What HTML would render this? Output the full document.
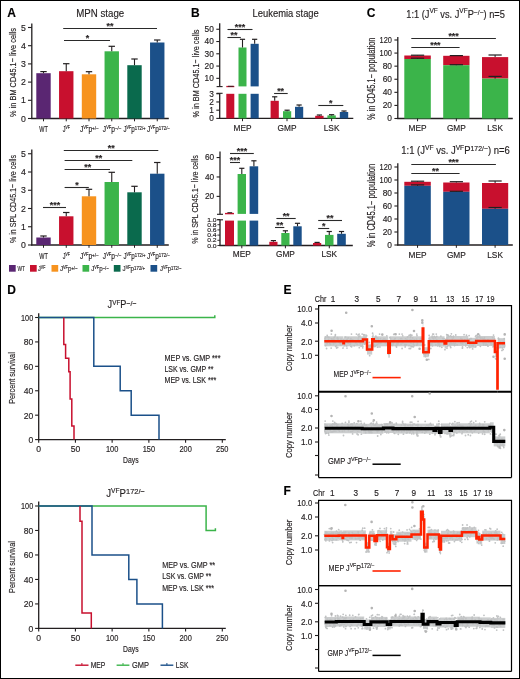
<!DOCTYPE html>
<html><head><meta charset="utf-8"><style>
html,body{margin:0;padding:0;background:#fff;}
svg{display:block;will-change:transform;}
text{font-family:"Liberation Sans", sans-serif;stroke:#231f20;stroke-width:0.16px;}
</style></head><body>
<svg width="520" height="679" viewBox="0 0 520 679" font-family='"Liberation Sans", sans-serif'>
<rect width="520" height="679" fill="#fff"/>
<rect x="0.5" y="0.5" width="519" height="678" fill="none" stroke="#000" stroke-width="1"/>
<text x="7.3" y="16.5" font-size="12" fill="#000" font-weight="bold" stroke-width="0.3" stroke="#000">A</text>
<text x="191" y="16.5" font-size="12" fill="#000" font-weight="bold" stroke-width="0.3" stroke="#000">B</text>
<text x="366.8" y="17" font-size="12" fill="#000" font-weight="bold" stroke-width="0.3" stroke="#000">C</text>
<text x="7.3" y="293.8" font-size="12" fill="#000" font-weight="bold" stroke-width="0.3" stroke="#000">D</text>
<text x="283.4" y="293.8" font-size="12" fill="#000" font-weight="bold" stroke-width="0.3" stroke="#000">E</text>
<text x="283.6" y="494.5" font-size="12" fill="#000" font-weight="bold" stroke-width="0.3" stroke="#000">F</text>
<text x="100.2" y="17.4" font-size="10.4" fill="#231f20" textLength="48" lengthAdjust="spacingAndGlyphs" text-anchor="middle">MPN stage</text>
<line x1="31.8" y1="23.5" x2="31.8" y2="119.1" stroke="#231f20" stroke-width="1.3" stroke-linecap="butt"/>
<line x1="31.2" y1="118.5" x2="168.8" y2="118.5" stroke="#231f20" stroke-width="1.3" stroke-linecap="butt"/>
<line x1="28" y1="118.5" x2="31.8" y2="118.5" stroke="#231f20" stroke-width="1.1" stroke-linecap="butt"/>
<text x="25.9" y="121.59" font-size="8.7" fill="#231f20" text-anchor="end">0</text>
<line x1="28" y1="100.3" x2="31.8" y2="100.3" stroke="#231f20" stroke-width="1.1" stroke-linecap="butt"/>
<text x="25.9" y="103.39" font-size="8.7" fill="#231f20" text-anchor="end">1</text>
<line x1="28" y1="82.1" x2="31.8" y2="82.1" stroke="#231f20" stroke-width="1.1" stroke-linecap="butt"/>
<text x="25.9" y="85.19" font-size="8.7" fill="#231f20" text-anchor="end">2</text>
<line x1="28" y1="63.9" x2="31.8" y2="63.9" stroke="#231f20" stroke-width="1.1" stroke-linecap="butt"/>
<text x="25.9" y="66.99" font-size="8.7" fill="#231f20" text-anchor="end">3</text>
<line x1="28" y1="45.7" x2="31.8" y2="45.7" stroke="#231f20" stroke-width="1.1" stroke-linecap="butt"/>
<text x="25.9" y="48.79" font-size="8.7" fill="#231f20" text-anchor="end">4</text>
<line x1="28" y1="27.5" x2="31.8" y2="27.5" stroke="#231f20" stroke-width="1.1" stroke-linecap="butt"/>
<text x="25.9" y="30.59" font-size="8.7" fill="#231f20" text-anchor="end">5</text>
<rect x="36.3" y="73.2" width="14.4" height="45.3" fill="#5a2672"/>
<line x1="43.5" y1="73.2" x2="43.5" y2="71.6" stroke="#231f20" stroke-width="1.1" stroke-linecap="butt"/>
<line x1="40.3" y1="71.6" x2="46.7" y2="71.6" stroke="#231f20" stroke-width="1.2" stroke-linecap="butt"/>
<line x1="43.5" y1="118.5" x2="43.5" y2="121.3" stroke="#231f20" stroke-width="1" stroke-linecap="butt"/>
<rect x="59.05" y="71.2" width="14.4" height="47.3" fill="#c8102e"/>
<line x1="66.25" y1="71.2" x2="66.25" y2="63.7" stroke="#231f20" stroke-width="1.1" stroke-linecap="butt"/>
<line x1="63.05" y1="63.7" x2="69.45" y2="63.7" stroke="#231f20" stroke-width="1.2" stroke-linecap="butt"/>
<line x1="66.25" y1="118.5" x2="66.25" y2="121.3" stroke="#231f20" stroke-width="1" stroke-linecap="butt"/>
<rect x="81.8" y="74.3" width="14.4" height="44.2" fill="#f7931e"/>
<line x1="89" y1="74.3" x2="89" y2="71.7" stroke="#231f20" stroke-width="1.1" stroke-linecap="butt"/>
<line x1="85.8" y1="71.7" x2="92.2" y2="71.7" stroke="#231f20" stroke-width="1.2" stroke-linecap="butt"/>
<line x1="89" y1="118.5" x2="89" y2="121.3" stroke="#231f20" stroke-width="1" stroke-linecap="butt"/>
<rect x="104.55" y="51.3" width="14.4" height="67.2" fill="#3bb44a"/>
<line x1="111.75" y1="51.3" x2="111.75" y2="46.3" stroke="#231f20" stroke-width="1.1" stroke-linecap="butt"/>
<line x1="108.55" y1="46.3" x2="114.95" y2="46.3" stroke="#231f20" stroke-width="1.2" stroke-linecap="butt"/>
<line x1="111.75" y1="118.5" x2="111.75" y2="121.3" stroke="#231f20" stroke-width="1" stroke-linecap="butt"/>
<rect x="127.3" y="65.2" width="14.4" height="53.3" fill="#0a6a4d"/>
<line x1="134.5" y1="65.2" x2="134.5" y2="59" stroke="#231f20" stroke-width="1.1" stroke-linecap="butt"/>
<line x1="131.3" y1="59" x2="137.7" y2="59" stroke="#231f20" stroke-width="1.2" stroke-linecap="butt"/>
<line x1="134.5" y1="118.5" x2="134.5" y2="121.3" stroke="#231f20" stroke-width="1" stroke-linecap="butt"/>
<rect x="150.05" y="42.5" width="14.4" height="76" fill="#1b5089"/>
<line x1="157.25" y1="42.5" x2="157.25" y2="40" stroke="#231f20" stroke-width="1.1" stroke-linecap="butt"/>
<line x1="154.05" y1="40" x2="160.45" y2="40" stroke="#231f20" stroke-width="1.2" stroke-linecap="butt"/>
<line x1="157.25" y1="118.5" x2="157.25" y2="121.3" stroke="#231f20" stroke-width="1" stroke-linecap="butt"/>
<text x="43.5" y="131.6" font-size="8.2" fill="#231f20" textLength="8.6" lengthAdjust="spacingAndGlyphs" text-anchor="middle">WT</text>
<text x="66.25" y="131.6" font-size="8.2" fill="#231f20" textLength="7.2" lengthAdjust="spacingAndGlyphs" text-anchor="middle">J<tspan dy="-2.6" font-size="5">VF</tspan></text>
<text x="89.3" y="131.6" font-size="8.2" fill="#231f20" textLength="18.8" lengthAdjust="spacingAndGlyphs" text-anchor="middle">J<tspan dy="-2.6" font-size="5">VF</tspan><tspan dy="2.6">p</tspan><tspan dy="-1.4" font-size="5.6">+/−</tspan></text>
<text x="112.15" y="131.6" font-size="8.2" fill="#231f20" textLength="18.6" lengthAdjust="spacingAndGlyphs" text-anchor="middle">J<tspan dy="-2.6" font-size="5">VF</tspan><tspan dy="2.6">p</tspan><tspan dy="-1.4" font-size="5.6">−/−</tspan></text>
<text x="134.5" y="131.6" font-size="8.2" fill="#231f20" textLength="22.2" lengthAdjust="spacingAndGlyphs" text-anchor="middle">J<tspan dy="-2.6" font-size="5">VF</tspan><tspan dy="2.6">p</tspan><tspan dy="-1.4" font-size="5.6">172/+</tspan></text>
<text x="158.45" y="131.6" font-size="8.2" fill="#231f20" textLength="23" lengthAdjust="spacingAndGlyphs" text-anchor="middle">J<tspan dy="-2.6" font-size="5">VF</tspan><tspan dy="2.6">p</tspan><tspan dy="-1.4" font-size="5.6">172/−</tspan></text>
<line x1="63.2" y1="28.5" x2="157" y2="28.5" stroke="#2a2a2a" stroke-width="1.1" stroke-linecap="butt"/>
<text x="110" y="28.98" font-size="8.2" fill="#231f20" textLength="6.89" lengthAdjust="spacingAndGlyphs" text-anchor="middle" font-weight="bold">**</text>
<line x1="64" y1="40.5" x2="110" y2="40.5" stroke="#2a2a2a" stroke-width="1.1" stroke-linecap="butt"/>
<text x="87.5" y="40.98" font-size="8.2" fill="#231f20" textLength="3.44" lengthAdjust="spacingAndGlyphs" text-anchor="middle" font-weight="bold">*</text>
<line x1="31.8" y1="149.5" x2="31.8" y2="245.6" stroke="#231f20" stroke-width="1.3" stroke-linecap="butt"/>
<line x1="31.2" y1="245" x2="168.8" y2="245" stroke="#231f20" stroke-width="1.3" stroke-linecap="butt"/>
<line x1="28" y1="245" x2="31.8" y2="245" stroke="#231f20" stroke-width="1.1" stroke-linecap="butt"/>
<text x="25.9" y="248.09" font-size="8.7" fill="#231f20" text-anchor="end">0</text>
<line x1="28" y1="226.75" x2="31.8" y2="226.75" stroke="#231f20" stroke-width="1.1" stroke-linecap="butt"/>
<text x="25.9" y="229.84" font-size="8.7" fill="#231f20" text-anchor="end">1</text>
<line x1="28" y1="208.5" x2="31.8" y2="208.5" stroke="#231f20" stroke-width="1.1" stroke-linecap="butt"/>
<text x="25.9" y="211.59" font-size="8.7" fill="#231f20" text-anchor="end">2</text>
<line x1="28" y1="190.25" x2="31.8" y2="190.25" stroke="#231f20" stroke-width="1.1" stroke-linecap="butt"/>
<text x="25.9" y="193.34" font-size="8.7" fill="#231f20" text-anchor="end">3</text>
<line x1="28" y1="172" x2="31.8" y2="172" stroke="#231f20" stroke-width="1.1" stroke-linecap="butt"/>
<text x="25.9" y="175.09" font-size="8.7" fill="#231f20" text-anchor="end">4</text>
<line x1="28" y1="153.75" x2="31.8" y2="153.75" stroke="#231f20" stroke-width="1.1" stroke-linecap="butt"/>
<text x="25.9" y="156.84" font-size="8.7" fill="#231f20" text-anchor="end">5</text>
<rect x="36.3" y="237.5" width="14.4" height="7.5" fill="#5a2672"/>
<line x1="43.5" y1="237.5" x2="43.5" y2="236" stroke="#231f20" stroke-width="1.1" stroke-linecap="butt"/>
<line x1="40.3" y1="236" x2="46.7" y2="236" stroke="#231f20" stroke-width="1.2" stroke-linecap="butt"/>
<line x1="43.5" y1="245" x2="43.5" y2="247.8" stroke="#231f20" stroke-width="1" stroke-linecap="butt"/>
<rect x="59.05" y="216.3" width="14.4" height="28.7" fill="#c8102e"/>
<line x1="66.25" y1="216.3" x2="66.25" y2="212.5" stroke="#231f20" stroke-width="1.1" stroke-linecap="butt"/>
<line x1="63.05" y1="212.5" x2="69.45" y2="212.5" stroke="#231f20" stroke-width="1.2" stroke-linecap="butt"/>
<line x1="66.25" y1="245" x2="66.25" y2="247.8" stroke="#231f20" stroke-width="1" stroke-linecap="butt"/>
<rect x="81.8" y="196.3" width="14.4" height="48.7" fill="#f7931e"/>
<line x1="89" y1="196.3" x2="89" y2="189.3" stroke="#231f20" stroke-width="1.1" stroke-linecap="butt"/>
<line x1="85.8" y1="189.3" x2="92.2" y2="189.3" stroke="#231f20" stroke-width="1.2" stroke-linecap="butt"/>
<line x1="89" y1="245" x2="89" y2="247.8" stroke="#231f20" stroke-width="1" stroke-linecap="butt"/>
<rect x="104.55" y="182" width="14.4" height="63" fill="#3bb44a"/>
<line x1="111.75" y1="182" x2="111.75" y2="172.3" stroke="#231f20" stroke-width="1.1" stroke-linecap="butt"/>
<line x1="108.55" y1="172.3" x2="114.95" y2="172.3" stroke="#231f20" stroke-width="1.2" stroke-linecap="butt"/>
<line x1="111.75" y1="245" x2="111.75" y2="247.8" stroke="#231f20" stroke-width="1" stroke-linecap="butt"/>
<rect x="127.3" y="192.3" width="14.4" height="52.7" fill="#0a6a4d"/>
<line x1="134.5" y1="192.3" x2="134.5" y2="186.3" stroke="#231f20" stroke-width="1.1" stroke-linecap="butt"/>
<line x1="131.3" y1="186.3" x2="137.7" y2="186.3" stroke="#231f20" stroke-width="1.2" stroke-linecap="butt"/>
<line x1="134.5" y1="245" x2="134.5" y2="247.8" stroke="#231f20" stroke-width="1" stroke-linecap="butt"/>
<rect x="150.05" y="173.7" width="14.4" height="71.3" fill="#1b5089"/>
<line x1="157.25" y1="173.7" x2="157.25" y2="162.5" stroke="#231f20" stroke-width="1.1" stroke-linecap="butt"/>
<line x1="154.05" y1="162.5" x2="160.45" y2="162.5" stroke="#231f20" stroke-width="1.2" stroke-linecap="butt"/>
<line x1="157.25" y1="245" x2="157.25" y2="247.8" stroke="#231f20" stroke-width="1" stroke-linecap="butt"/>
<text x="43.5" y="258.7" font-size="8.2" fill="#231f20" textLength="8.6" lengthAdjust="spacingAndGlyphs" text-anchor="middle">WT</text>
<text x="66.25" y="258.7" font-size="8.2" fill="#231f20" textLength="7.2" lengthAdjust="spacingAndGlyphs" text-anchor="middle">J<tspan dy="-2.6" font-size="5">VF</tspan></text>
<text x="89.3" y="258.7" font-size="8.2" fill="#231f20" textLength="18.8" lengthAdjust="spacingAndGlyphs" text-anchor="middle">J<tspan dy="-2.6" font-size="5">VF</tspan><tspan dy="2.6">p</tspan><tspan dy="-1.4" font-size="5.6">+/−</tspan></text>
<text x="112.15" y="258.7" font-size="8.2" fill="#231f20" textLength="18.6" lengthAdjust="spacingAndGlyphs" text-anchor="middle">J<tspan dy="-2.6" font-size="5">VF</tspan><tspan dy="2.6">p</tspan><tspan dy="-1.4" font-size="5.6">−/−</tspan></text>
<text x="134.5" y="258.7" font-size="8.2" fill="#231f20" textLength="22.2" lengthAdjust="spacingAndGlyphs" text-anchor="middle">J<tspan dy="-2.6" font-size="5">VF</tspan><tspan dy="2.6">p</tspan><tspan dy="-1.4" font-size="5.6">172/+</tspan></text>
<text x="158.45" y="258.7" font-size="8.2" fill="#231f20" textLength="23" lengthAdjust="spacingAndGlyphs" text-anchor="middle">J<tspan dy="-2.6" font-size="5">VF</tspan><tspan dy="2.6">p</tspan><tspan dy="-1.4" font-size="5.6">172/−</tspan></text>
<line x1="43" y1="207.5" x2="66" y2="207.5" stroke="#2a2a2a" stroke-width="1.1" stroke-linecap="butt"/>
<text x="55" y="207.98" font-size="8.2" fill="#231f20" textLength="10.33" lengthAdjust="spacingAndGlyphs" text-anchor="middle" font-weight="bold">***</text>
<line x1="64.6" y1="187.5" x2="88.8" y2="187.5" stroke="#2a2a2a" stroke-width="1.1" stroke-linecap="butt"/>
<text x="77" y="187.98" font-size="8.2" fill="#231f20" textLength="3.44" lengthAdjust="spacingAndGlyphs" text-anchor="middle" font-weight="bold">*</text>
<line x1="64.6" y1="169.5" x2="110" y2="169.5" stroke="#2a2a2a" stroke-width="1.1" stroke-linecap="butt"/>
<text x="87.7" y="169.98" font-size="8.2" fill="#231f20" textLength="6.89" lengthAdjust="spacingAndGlyphs" text-anchor="middle" font-weight="bold">**</text>
<line x1="64.6" y1="160.5" x2="132.3" y2="160.5" stroke="#2a2a2a" stroke-width="1.1" stroke-linecap="butt"/>
<text x="98.8" y="160.98" font-size="8.2" fill="#231f20" textLength="6.89" lengthAdjust="spacingAndGlyphs" text-anchor="middle" font-weight="bold">**</text>
<line x1="63.8" y1="150.5" x2="158.3" y2="150.5" stroke="#2a2a2a" stroke-width="1.1" stroke-linecap="butt"/>
<text x="111.2" y="150.98" font-size="8.2" fill="#231f20" textLength="6.89" lengthAdjust="spacingAndGlyphs" text-anchor="middle" font-weight="bold">**</text>
<text transform="translate(15.7,72.5) rotate(-90)" font-size="9.8" fill="#231f20" textLength="89" lengthAdjust="spacingAndGlyphs" text-anchor="middle">% in BM CD45.1− live cells</text>
<text transform="translate(15.7,199) rotate(-90)" font-size="9.8" fill="#231f20" textLength="88" lengthAdjust="spacingAndGlyphs" text-anchor="middle">% in SPL CD45.1− live cells</text>
<rect x="9" y="265" width="6.7" height="6.7" fill="#5a2672"/>
<text x="17.5" y="271.2" font-size="7.6" fill="#231f20" textLength="7.5" lengthAdjust="spacingAndGlyphs">WT</text>
<rect x="30" y="265" width="6.7" height="6.7" fill="#c8102e"/>
<text x="38" y="271.2" font-size="7.6" fill="#231f20" textLength="7.3" lengthAdjust="spacingAndGlyphs">J<tspan dy="-2.4" font-size="4.7">VF</tspan></text>
<rect x="51.5" y="265" width="6.7" height="6.7" fill="#f7931e"/>
<text x="60" y="271.2" font-size="7.6" fill="#231f20" textLength="17.5" lengthAdjust="spacingAndGlyphs">J<tspan dy="-2.4" font-size="4.7">VF</tspan><tspan dy="2.4">p</tspan><tspan dy="-1.3" font-size="5.2">+/−</tspan></text>
<rect x="82.5" y="265" width="6.7" height="6.7" fill="#3bb44a"/>
<text x="91.2" y="271.2" font-size="7.6" fill="#231f20" textLength="17.5" lengthAdjust="spacingAndGlyphs">J<tspan dy="-2.4" font-size="4.7">VF</tspan><tspan dy="2.4">p</tspan><tspan dy="-1.3" font-size="5.2">−/−</tspan></text>
<rect x="113.8" y="265" width="6.7" height="6.7" fill="#0a6a4d"/>
<text x="122.5" y="271.2" font-size="7.6" fill="#231f20" textLength="22.5" lengthAdjust="spacingAndGlyphs">J<tspan dy="-2.4" font-size="4.7">VF</tspan><tspan dy="2.4">p</tspan><tspan dy="-1.3" font-size="5.2">172/+</tspan></text>
<rect x="150.5" y="265" width="6.7" height="6.7" fill="#1b5089"/>
<text x="160" y="271.2" font-size="7.6" fill="#231f20" textLength="21.3" lengthAdjust="spacingAndGlyphs">J<tspan dy="-2.4" font-size="4.7">VF</tspan><tspan dy="2.4">p</tspan><tspan dy="-1.3" font-size="5.2">172/−</tspan></text>
<text x="252.6" y="16.8" font-size="10.4" fill="#231f20" textLength="66.2" lengthAdjust="spacingAndGlyphs">Leukemia stage</text>
<line x1="219.7" y1="23.2" x2="219.7" y2="86.6" stroke="#231f20" stroke-width="1.3" stroke-linecap="butt"/>
<line x1="219.7" y1="93.3" x2="219.7" y2="119" stroke="#231f20" stroke-width="1.3" stroke-linecap="butt"/>
<line x1="216.6" y1="86.6" x2="222.6" y2="86.6" stroke="#231f20" stroke-width="1.1" stroke-linecap="butt"/>
<line x1="216.6" y1="93.3" x2="222.6" y2="93.3" stroke="#231f20" stroke-width="1.1" stroke-linecap="butt"/>
<line x1="219.1" y1="118.4" x2="353.3" y2="118.4" stroke="#231f20" stroke-width="1.3" stroke-linecap="butt"/>
<line x1="216.3" y1="29.25" x2="219.7" y2="29.25" stroke="#231f20" stroke-width="1.1" stroke-linecap="butt"/>
<text x="213.8" y="32.2" font-size="8.3" fill="#231f20" text-anchor="end">50</text>
<line x1="216.3" y1="41.52" x2="219.7" y2="41.52" stroke="#231f20" stroke-width="1.1" stroke-linecap="butt"/>
<text x="213.8" y="44.47" font-size="8.3" fill="#231f20" text-anchor="end">40</text>
<line x1="216.3" y1="53.79" x2="219.7" y2="53.79" stroke="#231f20" stroke-width="1.1" stroke-linecap="butt"/>
<text x="213.8" y="56.74" font-size="8.3" fill="#231f20" text-anchor="end">30</text>
<line x1="216.3" y1="66.06" x2="219.7" y2="66.06" stroke="#231f20" stroke-width="1.1" stroke-linecap="butt"/>
<text x="213.8" y="69.01" font-size="8.3" fill="#231f20" text-anchor="end">20</text>
<line x1="216.3" y1="78.33" x2="219.7" y2="78.33" stroke="#231f20" stroke-width="1.1" stroke-linecap="butt"/>
<text x="213.8" y="81.28" font-size="8.3" fill="#231f20" text-anchor="end">10</text>
<line x1="216.3" y1="93.74" x2="219.7" y2="93.74" stroke="#231f20" stroke-width="1.1" stroke-linecap="butt"/>
<text x="213.8" y="96.69" font-size="8.3" fill="#231f20" text-anchor="end">3</text>
<line x1="216.3" y1="101.96" x2="219.7" y2="101.96" stroke="#231f20" stroke-width="1.1" stroke-linecap="butt"/>
<text x="213.8" y="104.91" font-size="8.3" fill="#231f20" text-anchor="end">2</text>
<line x1="216.3" y1="110.18" x2="219.7" y2="110.18" stroke="#231f20" stroke-width="1.1" stroke-linecap="butt"/>
<text x="213.8" y="113.13" font-size="8.3" fill="#231f20" text-anchor="end">1</text>
<line x1="216.3" y1="118.4" x2="219.7" y2="118.4" stroke="#231f20" stroke-width="1.1" stroke-linecap="butt"/>
<text x="213.8" y="121.35" font-size="8.3" fill="#231f20" text-anchor="end">0</text>
<rect x="226.3" y="85.9" width="8" height="1.3" fill="#c8102e"/>
<line x1="228" y1="86.3" x2="233.6" y2="86.3" stroke="#231f20" stroke-width="0.9" stroke-linecap="butt"/>
<rect x="226.3" y="93.8" width="8" height="24.6" fill="#c8102e"/>
<rect x="238.5" y="47.5" width="8" height="38.9" fill="#3bb44a"/>
<line x1="242.5" y1="47.5" x2="242.5" y2="39.3" stroke="#231f20" stroke-width="1.1" stroke-linecap="butt"/>
<line x1="239.9" y1="39.3" x2="245.1" y2="39.3" stroke="#231f20" stroke-width="1.2" stroke-linecap="butt"/>
<rect x="238.5" y="93.8" width="8" height="24.6" fill="#3bb44a"/>
<rect x="250.6" y="43.8" width="8.1" height="42.6" fill="#1b5089"/>
<line x1="254.65" y1="43.8" x2="254.65" y2="39.3" stroke="#231f20" stroke-width="1.1" stroke-linecap="butt"/>
<line x1="252.05" y1="39.3" x2="257.25" y2="39.3" stroke="#231f20" stroke-width="1.2" stroke-linecap="butt"/>
<rect x="250.6" y="93.8" width="8.1" height="24.6" fill="#1b5089"/>
<rect x="270.6" y="100.8" width="8.2" height="17.6" fill="#c8102e"/>
<line x1="274.7" y1="100.8" x2="274.7" y2="96.8" stroke="#231f20" stroke-width="1.1" stroke-linecap="butt"/>
<line x1="272.1" y1="96.8" x2="277.3" y2="96.8" stroke="#231f20" stroke-width="1.2" stroke-linecap="butt"/>
<rect x="283" y="111.2" width="8.2" height="7.2" fill="#3bb44a"/>
<line x1="287.1" y1="111.2" x2="287.1" y2="110.2" stroke="#231f20" stroke-width="1.1" stroke-linecap="butt"/>
<line x1="284.5" y1="110.2" x2="289.7" y2="110.2" stroke="#231f20" stroke-width="1.2" stroke-linecap="butt"/>
<rect x="295" y="106.8" width="8.2" height="11.6" fill="#1b5089"/>
<line x1="299.1" y1="106.8" x2="299.1" y2="105" stroke="#231f20" stroke-width="1.1" stroke-linecap="butt"/>
<line x1="296.5" y1="105" x2="301.7" y2="105" stroke="#231f20" stroke-width="1.2" stroke-linecap="butt"/>
<rect x="315.2" y="115.8" width="8.4" height="2.6" fill="#c8102e"/>
<line x1="319.4" y1="115.8" x2="319.4" y2="115" stroke="#231f20" stroke-width="1.1" stroke-linecap="butt"/>
<line x1="316.8" y1="115" x2="322" y2="115" stroke="#231f20" stroke-width="1.2" stroke-linecap="butt"/>
<rect x="327.4" y="115.4" width="8.4" height="3" fill="#3bb44a"/>
<line x1="331.6" y1="115.4" x2="331.6" y2="114.7" stroke="#231f20" stroke-width="1.1" stroke-linecap="butt"/>
<line x1="329" y1="114.7" x2="334.2" y2="114.7" stroke="#231f20" stroke-width="1.2" stroke-linecap="butt"/>
<rect x="339.8" y="112" width="8.4" height="6.4" fill="#1b5089"/>
<line x1="344" y1="112" x2="344" y2="111" stroke="#231f20" stroke-width="1.1" stroke-linecap="butt"/>
<line x1="341.4" y1="111" x2="346.6" y2="111" stroke="#231f20" stroke-width="1.2" stroke-linecap="butt"/>
<line x1="242.5" y1="118.4" x2="242.5" y2="121.2" stroke="#231f20" stroke-width="1" stroke-linecap="butt"/>
<text x="242.5" y="130.8" font-size="8.3" fill="#231f20" text-anchor="middle">MEP</text>
<line x1="287" y1="118.4" x2="287" y2="121.2" stroke="#231f20" stroke-width="1" stroke-linecap="butt"/>
<text x="287" y="130.8" font-size="8.3" fill="#231f20" text-anchor="middle">GMP</text>
<line x1="331.6" y1="118.4" x2="331.6" y2="121.2" stroke="#231f20" stroke-width="1" stroke-linecap="butt"/>
<text x="331.6" y="130.8" font-size="8.3" fill="#231f20" text-anchor="middle">LSK</text>
<line x1="227.4" y1="37.5" x2="240.8" y2="37.5" stroke="#2a2a2a" stroke-width="1.1" stroke-linecap="butt"/>
<text x="233.9" y="37.98" font-size="8.2" fill="#231f20" textLength="6.89" lengthAdjust="spacingAndGlyphs" text-anchor="middle" font-weight="bold">**</text>
<line x1="227.5" y1="29.5" x2="252.5" y2="29.5" stroke="#2a2a2a" stroke-width="1.1" stroke-linecap="butt"/>
<text x="240" y="29.98" font-size="8.2" fill="#231f20" textLength="10.33" lengthAdjust="spacingAndGlyphs" text-anchor="middle" font-weight="bold">***</text>
<line x1="274.1" y1="93.5" x2="287.7" y2="93.5" stroke="#2a2a2a" stroke-width="1.1" stroke-linecap="butt"/>
<text x="280.6" y="93.98" font-size="8.2" fill="#231f20" textLength="6.89" lengthAdjust="spacingAndGlyphs" text-anchor="middle" font-weight="bold">**</text>
<line x1="318.3" y1="105.5" x2="343.3" y2="105.5" stroke="#2a2a2a" stroke-width="1.1" stroke-linecap="butt"/>
<text x="330.8" y="105.98" font-size="8.2" fill="#231f20" textLength="3.44" lengthAdjust="spacingAndGlyphs" text-anchor="middle" font-weight="bold">*</text>
<text transform="translate(199.3,73.5) rotate(-90)" font-size="9.8" fill="#231f20" textLength="88" lengthAdjust="spacingAndGlyphs" text-anchor="middle">% in BM CD45.1− live cells</text>
<line x1="220" y1="151.5" x2="220" y2="214.3" stroke="#231f20" stroke-width="1.3" stroke-linecap="butt"/>
<line x1="220" y1="219.8" x2="220" y2="246.1" stroke="#231f20" stroke-width="1.3" stroke-linecap="butt"/>
<line x1="217" y1="214.3" x2="223" y2="214.3" stroke="#231f20" stroke-width="1.1" stroke-linecap="butt"/>
<line x1="217" y1="219.8" x2="223" y2="219.8" stroke="#231f20" stroke-width="1.1" stroke-linecap="butt"/>
<line x1="219.4" y1="245.5" x2="352.8" y2="245.5" stroke="#231f20" stroke-width="1.3" stroke-linecap="butt"/>
<line x1="216.6" y1="157.54" x2="220" y2="157.54" stroke="#231f20" stroke-width="1.1" stroke-linecap="butt"/>
<text x="214.2" y="160.49" font-size="8.3" fill="#231f20" text-anchor="end">60</text>
<line x1="216.6" y1="176.96" x2="220" y2="176.96" stroke="#231f20" stroke-width="1.1" stroke-linecap="butt"/>
<text x="214.2" y="179.91" font-size="8.3" fill="#231f20" text-anchor="end">40</text>
<line x1="216.6" y1="196.38" x2="220" y2="196.38" stroke="#231f20" stroke-width="1.1" stroke-linecap="butt"/>
<text x="214.2" y="199.33" font-size="8.3" fill="#231f20" text-anchor="end">20</text>
<line x1="217.4" y1="245.5" x2="220" y2="245.5" stroke="#231f20" stroke-width="0.9" stroke-linecap="butt"/>
<text x="216.6" y="247.59" font-size="5.9" fill="#231f20" textLength="9.4" lengthAdjust="spacingAndGlyphs" text-anchor="end">0.0</text>
<line x1="217.4" y1="240.3" x2="220" y2="240.3" stroke="#231f20" stroke-width="0.9" stroke-linecap="butt"/>
<text x="216.6" y="242.39" font-size="5.9" fill="#231f20" textLength="9.4" lengthAdjust="spacingAndGlyphs" text-anchor="end">0.2</text>
<line x1="217.4" y1="235.1" x2="220" y2="235.1" stroke="#231f20" stroke-width="0.9" stroke-linecap="butt"/>
<text x="216.6" y="237.19" font-size="5.9" fill="#231f20" textLength="9.4" lengthAdjust="spacingAndGlyphs" text-anchor="end">0.4</text>
<line x1="217.4" y1="229.9" x2="220" y2="229.9" stroke="#231f20" stroke-width="0.9" stroke-linecap="butt"/>
<text x="216.6" y="231.99" font-size="5.9" fill="#231f20" textLength="9.4" lengthAdjust="spacingAndGlyphs" text-anchor="end">0.6</text>
<line x1="217.4" y1="224.7" x2="220" y2="224.7" stroke="#231f20" stroke-width="0.9" stroke-linecap="butt"/>
<text x="216.6" y="226.79" font-size="5.9" fill="#231f20" textLength="9.4" lengthAdjust="spacingAndGlyphs" text-anchor="end">0.8</text>
<line x1="217.4" y1="219.5" x2="220" y2="219.5" stroke="#231f20" stroke-width="0.9" stroke-linecap="butt"/>
<text x="216.6" y="221.59" font-size="5.9" fill="#231f20" textLength="9.4" lengthAdjust="spacingAndGlyphs" text-anchor="end">1.0</text>
<rect x="225" y="212.9" width="9" height="1.4" fill="#c8102e"/>
<line x1="227.4" y1="212.7" x2="232.2" y2="212.7" stroke="#231f20" stroke-width="1" stroke-linecap="butt"/>
<rect x="225" y="220.6" width="9" height="24.9" fill="#c8102e"/>
<rect x="237.6" y="174" width="8.4" height="39.9" fill="#3bb44a"/>
<line x1="241.8" y1="174" x2="241.8" y2="168.3" stroke="#231f20" stroke-width="1.1" stroke-linecap="butt"/>
<line x1="239.2" y1="168.3" x2="244.4" y2="168.3" stroke="#231f20" stroke-width="1.2" stroke-linecap="butt"/>
<rect x="237.6" y="220.6" width="8.4" height="24.9" fill="#3bb44a"/>
<rect x="249.6" y="166.3" width="8.6" height="47.6" fill="#1b5089"/>
<line x1="253.9" y1="166.3" x2="253.9" y2="160.8" stroke="#231f20" stroke-width="1.1" stroke-linecap="butt"/>
<line x1="251.3" y1="160.8" x2="256.5" y2="160.8" stroke="#231f20" stroke-width="1.2" stroke-linecap="butt"/>
<rect x="249.6" y="220.6" width="8.6" height="24.9" fill="#1b5089"/>
<rect x="269.3" y="241.8" width="8.2" height="3.7" fill="#c8102e"/>
<line x1="273.4" y1="241.8" x2="273.4" y2="240.6" stroke="#231f20" stroke-width="1.1" stroke-linecap="butt"/>
<line x1="270.8" y1="240.6" x2="276" y2="240.6" stroke="#231f20" stroke-width="1.2" stroke-linecap="butt"/>
<rect x="281.3" y="233" width="8.2" height="12.5" fill="#3bb44a"/>
<line x1="285.4" y1="233" x2="285.4" y2="230.8" stroke="#231f20" stroke-width="1.1" stroke-linecap="butt"/>
<line x1="282.8" y1="230.8" x2="288" y2="230.8" stroke="#231f20" stroke-width="1.2" stroke-linecap="butt"/>
<rect x="293.3" y="226.3" width="8.4" height="19.2" fill="#1b5089"/>
<line x1="297.5" y1="226.3" x2="297.5" y2="223.3" stroke="#231f20" stroke-width="1.1" stroke-linecap="butt"/>
<line x1="294.9" y1="223.3" x2="300.1" y2="223.3" stroke="#231f20" stroke-width="1.2" stroke-linecap="butt"/>
<rect x="313" y="243" width="8.2" height="2.5" fill="#c8102e"/>
<line x1="317.1" y1="243" x2="317.1" y2="242.4" stroke="#231f20" stroke-width="1.1" stroke-linecap="butt"/>
<line x1="314.5" y1="242.4" x2="319.7" y2="242.4" stroke="#231f20" stroke-width="1.2" stroke-linecap="butt"/>
<rect x="325" y="234.9" width="8.5" height="10.6" fill="#3bb44a"/>
<line x1="329.25" y1="234.9" x2="329.25" y2="231.5" stroke="#231f20" stroke-width="1.1" stroke-linecap="butt"/>
<line x1="326.65" y1="231.5" x2="331.85" y2="231.5" stroke="#231f20" stroke-width="1.2" stroke-linecap="butt"/>
<rect x="337.2" y="233.8" width="8.6" height="11.7" fill="#1b5089"/>
<line x1="341.5" y1="233.8" x2="341.5" y2="231.5" stroke="#231f20" stroke-width="1.1" stroke-linecap="butt"/>
<line x1="338.9" y1="231.5" x2="344.1" y2="231.5" stroke="#231f20" stroke-width="1.2" stroke-linecap="butt"/>
<line x1="241.8" y1="245.5" x2="241.8" y2="248.3" stroke="#231f20" stroke-width="1" stroke-linecap="butt"/>
<text x="241.8" y="257.2" font-size="8.3" fill="#231f20" text-anchor="middle">MEP</text>
<line x1="285.4" y1="245.5" x2="285.4" y2="248.3" stroke="#231f20" stroke-width="1" stroke-linecap="butt"/>
<text x="285.4" y="257.2" font-size="8.3" fill="#231f20" text-anchor="middle">GMP</text>
<line x1="329.3" y1="245.5" x2="329.3" y2="248.3" stroke="#231f20" stroke-width="1" stroke-linecap="butt"/>
<text x="329.3" y="257.2" font-size="8.3" fill="#231f20" text-anchor="middle">LSK</text>
<line x1="230" y1="162.5" x2="240" y2="162.5" stroke="#2a2a2a" stroke-width="1.1" stroke-linecap="butt"/>
<text x="235" y="162.98" font-size="8.2" fill="#231f20" textLength="10.33" lengthAdjust="spacingAndGlyphs" text-anchor="middle" font-weight="bold">***</text>
<line x1="230" y1="153.5" x2="253.8" y2="153.5" stroke="#2a2a2a" stroke-width="1.1" stroke-linecap="butt"/>
<text x="242" y="153.98" font-size="8.2" fill="#231f20" textLength="10.33" lengthAdjust="spacingAndGlyphs" text-anchor="middle" font-weight="bold">***</text>
<line x1="275" y1="227.5" x2="284.3" y2="227.5" stroke="#2a2a2a" stroke-width="1.1" stroke-linecap="butt"/>
<text x="279.7" y="227.98" font-size="8.2" fill="#231f20" textLength="6.89" lengthAdjust="spacingAndGlyphs" text-anchor="middle" font-weight="bold">**</text>
<line x1="276.4" y1="218.5" x2="295.7" y2="218.5" stroke="#2a2a2a" stroke-width="1.1" stroke-linecap="butt"/>
<text x="286.1" y="218.98" font-size="8.2" fill="#231f20" textLength="6.89" lengthAdjust="spacingAndGlyphs" text-anchor="middle" font-weight="bold">**</text>
<line x1="318.2" y1="228.5" x2="329.2" y2="228.5" stroke="#2a2a2a" stroke-width="1.1" stroke-linecap="butt"/>
<text x="323.7" y="228.98" font-size="8.2" fill="#231f20" textLength="3.44" lengthAdjust="spacingAndGlyphs" text-anchor="middle" font-weight="bold">*</text>
<line x1="318.2" y1="220.5" x2="342" y2="220.5" stroke="#2a2a2a" stroke-width="1.1" stroke-linecap="butt"/>
<text x="330" y="220.98" font-size="8.2" fill="#231f20" textLength="6.89" lengthAdjust="spacingAndGlyphs" text-anchor="middle" font-weight="bold">**</text>
<text transform="translate(198.4,199.4) rotate(-90)" font-size="9.8" fill="#231f20" textLength="88.5" lengthAdjust="spacingAndGlyphs" text-anchor="middle">% in SPL CD45.1− live cells</text>
<text x="406.3" y="17.6" font-size="10.2" fill="#231f20" textLength="98.6" lengthAdjust="spacingAndGlyphs">1:1 (J<tspan dy="-4.2" font-size="7.2">VF</tspan><tspan dy="4.2"> vs. J</tspan><tspan dy="-4.2" font-size="7.2">VF</tspan><tspan dy="4.2">P</tspan><tspan dy="-3.0" font-size="7.4">−/−</tspan><tspan dy="3.0">) n=5</tspan></text>
<line x1="397.8" y1="37" x2="397.8" y2="119.1" stroke="#231f20" stroke-width="1.3" stroke-linecap="butt"/>
<line x1="397.2" y1="118.5" x2="512.8" y2="118.5" stroke="#231f20" stroke-width="1.3" stroke-linecap="butt"/>
<line x1="394.4" y1="118.5" x2="397.8" y2="118.5" stroke="#231f20" stroke-width="1.1" stroke-linecap="butt"/>
<text x="392" y="121.48" font-size="8.4" fill="#231f20" text-anchor="end">0</text>
<line x1="394.4" y1="105.42" x2="397.8" y2="105.42" stroke="#231f20" stroke-width="1.1" stroke-linecap="butt"/>
<text x="392" y="108.4" font-size="8.4" fill="#231f20" text-anchor="end">20</text>
<line x1="394.4" y1="92.33" x2="397.8" y2="92.33" stroke="#231f20" stroke-width="1.1" stroke-linecap="butt"/>
<text x="392" y="95.31" font-size="8.4" fill="#231f20" text-anchor="end">40</text>
<line x1="394.4" y1="79.25" x2="397.8" y2="79.25" stroke="#231f20" stroke-width="1.1" stroke-linecap="butt"/>
<text x="392" y="82.23" font-size="8.4" fill="#231f20" text-anchor="end">60</text>
<line x1="394.4" y1="66.16" x2="397.8" y2="66.16" stroke="#231f20" stroke-width="1.1" stroke-linecap="butt"/>
<text x="392" y="69.15" font-size="8.4" fill="#231f20" text-anchor="end">80</text>
<line x1="394.4" y1="53.08" x2="397.8" y2="53.08" stroke="#231f20" stroke-width="1.1" stroke-linecap="butt"/>
<text x="392" y="56.06" font-size="8.4" fill="#231f20" textLength="12.4" lengthAdjust="spacingAndGlyphs" text-anchor="end">100</text>
<line x1="394.4" y1="40" x2="397.8" y2="40" stroke="#231f20" stroke-width="1.1" stroke-linecap="butt"/>
<text x="392" y="42.98" font-size="8.4" fill="#231f20" textLength="12.4" lengthAdjust="spacingAndGlyphs" text-anchor="end">120</text>
<rect x="404.3" y="55.5" width="26.5" height="3.5" fill="#c8102e"/>
<rect x="404.3" y="59" width="26.5" height="59.5" fill="#3bb44a"/>
<line x1="417.55" y1="55.5" x2="417.55" y2="55.2" stroke="#231f20" stroke-width="1" stroke-linecap="butt"/>
<line x1="410.95" y1="55.2" x2="424.15" y2="55.2" stroke="#231f20" stroke-width="1.2" stroke-linecap="butt"/>
<line x1="417.55" y1="59" x2="417.55" y2="58.2" stroke="#231f20" stroke-width="1" stroke-linecap="butt"/>
<line x1="410.95" y1="58.2" x2="424.15" y2="58.2" stroke="#231f20" stroke-width="1.2" stroke-linecap="butt"/>
<line x1="417.55" y1="118.5" x2="417.55" y2="121.3" stroke="#231f20" stroke-width="1" stroke-linecap="butt"/>
<rect x="443.2" y="55.8" width="26.3" height="9.4" fill="#c8102e"/>
<rect x="443.2" y="65.2" width="26.3" height="53.3" fill="#3bb44a"/>
<line x1="456.35" y1="55.8" x2="456.35" y2="55.6" stroke="#231f20" stroke-width="1" stroke-linecap="butt"/>
<line x1="449.75" y1="55.6" x2="462.95" y2="55.6" stroke="#231f20" stroke-width="1.2" stroke-linecap="butt"/>
<line x1="456.35" y1="65.2" x2="456.35" y2="64.7" stroke="#231f20" stroke-width="1" stroke-linecap="butt"/>
<line x1="449.75" y1="64.7" x2="462.95" y2="64.7" stroke="#231f20" stroke-width="1.2" stroke-linecap="butt"/>
<line x1="456.35" y1="118.5" x2="456.35" y2="121.3" stroke="#231f20" stroke-width="1" stroke-linecap="butt"/>
<rect x="482" y="57.1" width="26.2" height="21.5" fill="#c8102e"/>
<rect x="482" y="78.6" width="26.2" height="39.9" fill="#3bb44a"/>
<line x1="495.1" y1="57.1" x2="495.1" y2="55" stroke="#231f20" stroke-width="1" stroke-linecap="butt"/>
<line x1="488.5" y1="55" x2="501.7" y2="55" stroke="#231f20" stroke-width="1.2" stroke-linecap="butt"/>
<line x1="495.1" y1="78.6" x2="495.1" y2="76.4" stroke="#231f20" stroke-width="1" stroke-linecap="butt"/>
<line x1="488.5" y1="76.4" x2="501.7" y2="76.4" stroke="#231f20" stroke-width="1.2" stroke-linecap="butt"/>
<line x1="495.1" y1="118.5" x2="495.1" y2="121.3" stroke="#231f20" stroke-width="1" stroke-linecap="butt"/>
<text x="417.55" y="131" font-size="8.3" fill="#231f20" text-anchor="middle">MEP</text>
<text x="456.35" y="131" font-size="8.3" fill="#231f20" text-anchor="middle">GMP</text>
<text x="495.1" y="131" font-size="8.3" fill="#231f20" text-anchor="middle">LSK</text>
<line x1="411.3" y1="38.5" x2="495.9" y2="38.5" stroke="#2a2a2a" stroke-width="1.1" stroke-linecap="butt"/>
<text x="453.6" y="38.98" font-size="8.2" fill="#231f20" textLength="10.33" lengthAdjust="spacingAndGlyphs" text-anchor="middle" font-weight="bold">***</text>
<line x1="411.3" y1="47.5" x2="459.6" y2="47.5" stroke="#2a2a2a" stroke-width="1.1" stroke-linecap="butt"/>
<text x="435.4" y="47.98" font-size="8.2" fill="#231f20" textLength="10.33" lengthAdjust="spacingAndGlyphs" text-anchor="middle" font-weight="bold">***</text>
<text x="401.3" y="153.8" font-size="10.2" fill="#231f20" textLength="108.5" lengthAdjust="spacingAndGlyphs">1:1 (J<tspan dy="-4.2" font-size="7.2">VF</tspan><tspan dy="4.2"> vs. J</tspan><tspan dy="-4.2" font-size="7.2">VF</tspan><tspan dy="4.2">P</tspan><tspan dy="-3.0" font-size="7.4">172/−</tspan><tspan dy="3.0">) n=6</tspan></text>
<line x1="397.8" y1="163.3" x2="397.8" y2="245.6" stroke="#231f20" stroke-width="1.3" stroke-linecap="butt"/>
<line x1="397.2" y1="245" x2="512.8" y2="245" stroke="#231f20" stroke-width="1.3" stroke-linecap="butt"/>
<line x1="394.4" y1="245" x2="397.8" y2="245" stroke="#231f20" stroke-width="1.1" stroke-linecap="butt"/>
<text x="392" y="247.98" font-size="8.4" fill="#231f20" text-anchor="end">0</text>
<line x1="394.4" y1="232" x2="397.8" y2="232" stroke="#231f20" stroke-width="1.1" stroke-linecap="butt"/>
<text x="392" y="234.98" font-size="8.4" fill="#231f20" text-anchor="end">20</text>
<line x1="394.4" y1="219" x2="397.8" y2="219" stroke="#231f20" stroke-width="1.1" stroke-linecap="butt"/>
<text x="392" y="221.98" font-size="8.4" fill="#231f20" text-anchor="end">40</text>
<line x1="394.4" y1="206" x2="397.8" y2="206" stroke="#231f20" stroke-width="1.1" stroke-linecap="butt"/>
<text x="392" y="208.98" font-size="8.4" fill="#231f20" text-anchor="end">60</text>
<line x1="394.4" y1="193" x2="397.8" y2="193" stroke="#231f20" stroke-width="1.1" stroke-linecap="butt"/>
<text x="392" y="195.98" font-size="8.4" fill="#231f20" text-anchor="end">80</text>
<line x1="394.4" y1="180" x2="397.8" y2="180" stroke="#231f20" stroke-width="1.1" stroke-linecap="butt"/>
<text x="392" y="182.98" font-size="8.4" fill="#231f20" textLength="12.4" lengthAdjust="spacingAndGlyphs" text-anchor="end">100</text>
<line x1="394.4" y1="167" x2="397.8" y2="167" stroke="#231f20" stroke-width="1.1" stroke-linecap="butt"/>
<text x="392" y="169.98" font-size="8.4" fill="#231f20" textLength="12.4" lengthAdjust="spacingAndGlyphs" text-anchor="end">120</text>
<rect x="404.3" y="181.8" width="26.5" height="4" fill="#c8102e"/>
<rect x="404.3" y="185.8" width="26.5" height="59.2" fill="#1b5089"/>
<line x1="417.55" y1="181.8" x2="417.55" y2="181.2" stroke="#231f20" stroke-width="1" stroke-linecap="butt"/>
<line x1="410.95" y1="181.2" x2="424.15" y2="181.2" stroke="#231f20" stroke-width="1.2" stroke-linecap="butt"/>
<line x1="417.55" y1="185.8" x2="417.55" y2="184.9" stroke="#231f20" stroke-width="1" stroke-linecap="butt"/>
<line x1="410.95" y1="184.9" x2="424.15" y2="184.9" stroke="#231f20" stroke-width="1.2" stroke-linecap="butt"/>
<line x1="417.55" y1="245" x2="417.55" y2="247.8" stroke="#231f20" stroke-width="1" stroke-linecap="butt"/>
<rect x="443.2" y="182.5" width="26.3" height="9.3" fill="#c8102e"/>
<rect x="443.2" y="191.8" width="26.3" height="53.2" fill="#1b5089"/>
<line x1="456.35" y1="182.5" x2="456.35" y2="181.7" stroke="#231f20" stroke-width="1" stroke-linecap="butt"/>
<line x1="449.75" y1="181.7" x2="462.95" y2="181.7" stroke="#231f20" stroke-width="1.2" stroke-linecap="butt"/>
<line x1="456.35" y1="191.8" x2="456.35" y2="191.3" stroke="#231f20" stroke-width="1" stroke-linecap="butt"/>
<line x1="449.75" y1="191.3" x2="462.95" y2="191.3" stroke="#231f20" stroke-width="1.2" stroke-linecap="butt"/>
<line x1="456.35" y1="245" x2="456.35" y2="247.8" stroke="#231f20" stroke-width="1" stroke-linecap="butt"/>
<rect x="482" y="183" width="26.2" height="25.8" fill="#c8102e"/>
<rect x="482" y="208.8" width="26.2" height="36.2" fill="#1b5089"/>
<line x1="495.1" y1="183" x2="495.1" y2="181" stroke="#231f20" stroke-width="1" stroke-linecap="butt"/>
<line x1="488.5" y1="181" x2="501.7" y2="181" stroke="#231f20" stroke-width="1.2" stroke-linecap="butt"/>
<line x1="495.1" y1="208.8" x2="495.1" y2="207.5" stroke="#231f20" stroke-width="1" stroke-linecap="butt"/>
<line x1="488.5" y1="207.5" x2="501.7" y2="207.5" stroke="#231f20" stroke-width="1.2" stroke-linecap="butt"/>
<line x1="495.1" y1="245" x2="495.1" y2="247.8" stroke="#231f20" stroke-width="1" stroke-linecap="butt"/>
<text x="417.55" y="257.5" font-size="8.3" fill="#231f20" text-anchor="middle">MEP</text>
<text x="456.35" y="257.5" font-size="8.3" fill="#231f20" text-anchor="middle">GMP</text>
<text x="495.1" y="257.5" font-size="8.3" fill="#231f20" text-anchor="middle">LSK</text>
<line x1="411.3" y1="164.5" x2="495.9" y2="164.5" stroke="#2a2a2a" stroke-width="1.1" stroke-linecap="butt"/>
<text x="453.6" y="164.98" font-size="8.2" fill="#231f20" textLength="10.33" lengthAdjust="spacingAndGlyphs" text-anchor="middle" font-weight="bold">***</text>
<line x1="411.3" y1="173.5" x2="459.6" y2="173.5" stroke="#2a2a2a" stroke-width="1.1" stroke-linecap="butt"/>
<text x="435.4" y="173.98" font-size="8.2" fill="#231f20" textLength="6.89" lengthAdjust="spacingAndGlyphs" text-anchor="middle" font-weight="bold">**</text>
<text transform="translate(375.2,78.8) rotate(-90)" font-size="10" fill="#231f20" textLength="82.5" lengthAdjust="spacingAndGlyphs" text-anchor="middle">% in CD45.1− population</text>
<text transform="translate(375.2,205.6) rotate(-90)" font-size="10" fill="#231f20" textLength="83.5" lengthAdjust="spacingAndGlyphs" text-anchor="middle">% in CD45.1− population</text>
<line x1="38.7" y1="313.2" x2="38.7" y2="440.2" stroke="#231f20" stroke-width="1.3" stroke-linecap="butt"/>
<line x1="38.1" y1="439.6" x2="225.8" y2="439.6" stroke="#231f20" stroke-width="1.3" stroke-linecap="butt"/>
<line x1="35.1" y1="439.6" x2="38.7" y2="439.6" stroke="#231f20" stroke-width="1.1" stroke-linecap="butt"/>
<text x="33.2" y="442.95" font-size="8.6" fill="#231f20" text-anchor="end">0</text>
<line x1="35.1" y1="415.18" x2="38.7" y2="415.18" stroke="#231f20" stroke-width="1.1" stroke-linecap="butt"/>
<text x="33.2" y="418.53" font-size="8.6" fill="#231f20" text-anchor="end">20</text>
<line x1="35.1" y1="390.76" x2="38.7" y2="390.76" stroke="#231f20" stroke-width="1.1" stroke-linecap="butt"/>
<text x="33.2" y="394.11" font-size="8.6" fill="#231f20" text-anchor="end">40</text>
<line x1="35.1" y1="366.34" x2="38.7" y2="366.34" stroke="#231f20" stroke-width="1.1" stroke-linecap="butt"/>
<text x="33.2" y="369.69" font-size="8.6" fill="#231f20" text-anchor="end">60</text>
<line x1="35.1" y1="341.92" x2="38.7" y2="341.92" stroke="#231f20" stroke-width="1.1" stroke-linecap="butt"/>
<text x="33.2" y="345.27" font-size="8.6" fill="#231f20" text-anchor="end">80</text>
<line x1="35.1" y1="317.5" x2="38.7" y2="317.5" stroke="#231f20" stroke-width="1.1" stroke-linecap="butt"/>
<text x="33.2" y="320.85" font-size="8.6" fill="#231f20" textLength="12.2" lengthAdjust="spacingAndGlyphs" text-anchor="end">100</text>
<line x1="38.7" y1="439.6" x2="38.7" y2="442.8" stroke="#231f20" stroke-width="1.1" stroke-linecap="butt"/>
<text x="38.7" y="452.2" font-size="8.6" fill="#231f20" text-anchor="middle">0</text>
<line x1="75.42" y1="439.6" x2="75.42" y2="442.8" stroke="#231f20" stroke-width="1.1" stroke-linecap="butt"/>
<text x="75.42" y="452.2" font-size="8.6" fill="#231f20" text-anchor="middle">50</text>
<line x1="112.14" y1="439.6" x2="112.14" y2="442.8" stroke="#231f20" stroke-width="1.1" stroke-linecap="butt"/>
<text x="112.14" y="452.2" font-size="8.6" fill="#231f20" textLength="12.4" lengthAdjust="spacingAndGlyphs" text-anchor="middle">100</text>
<line x1="148.86" y1="439.6" x2="148.86" y2="442.8" stroke="#231f20" stroke-width="1.1" stroke-linecap="butt"/>
<text x="148.86" y="452.2" font-size="8.6" fill="#231f20" textLength="12.4" lengthAdjust="spacingAndGlyphs" text-anchor="middle">150</text>
<line x1="185.58" y1="439.6" x2="185.58" y2="442.8" stroke="#231f20" stroke-width="1.1" stroke-linecap="butt"/>
<text x="185.58" y="452.2" font-size="8.6" fill="#231f20" textLength="12.4" lengthAdjust="spacingAndGlyphs" text-anchor="middle">200</text>
<line x1="222.3" y1="439.6" x2="222.3" y2="442.8" stroke="#231f20" stroke-width="1.1" stroke-linecap="butt"/>
<text x="222.3" y="452.2" font-size="8.6" fill="#231f20" textLength="12.4" lengthAdjust="spacingAndGlyphs" text-anchor="middle">250</text>
<text x="130.8" y="463.3" font-size="8.6" fill="#231f20" textLength="15.5" lengthAdjust="spacingAndGlyphs" text-anchor="middle">Days</text>
<path d="M38.7 317.5 L214.8 317.5 L214.8 315.3" fill="none" stroke="#3bb44a" stroke-width="1.5" stroke-linejoin="miter"/>
<path d="M38.7 317.5 L93.8 317.5 L93.8 366.34 L120.2 366.34 L120.2 390.76 L131.2 390.76 L131.2 415.18 L159 415.18 L159 439.6" fill="none" stroke="#1b5089" stroke-width="1.5" stroke-linejoin="miter"/>
<path d="M63.8 317.5 L63.8 344.61 L65.6 344.61 L65.6 358.16 L68.8 358.16 L68.8 371.71 L70.1 371.71 L70.1 398.94 L71.8 398.94 L71.8 426.05 L74 426.05 L74 439.6" fill="none" stroke="#c8102e" stroke-width="1.5" stroke-linejoin="miter"/>
<text x="164.5" y="360.6" font-size="8.3" fill="#231f20" textLength="56" lengthAdjust="spacingAndGlyphs">MEP vs. GMP ***</text>
<text x="164.5" y="371.6" font-size="8.3" fill="#231f20" textLength="49" lengthAdjust="spacingAndGlyphs">LSK vs. GMP **</text>
<text x="164.5" y="382.6" font-size="8.3" fill="#231f20" textLength="51.8" lengthAdjust="spacingAndGlyphs">MEP vs. LSK ***</text>
<text x="107.6" y="308.4" font-size="10.4" fill="#231f20" textLength="29" lengthAdjust="spacingAndGlyphs">J<tspan dy="-3.8" font-size="7.2">VF</tspan><tspan dy="3.8">P</tspan><tspan dy="-2.6" font-size="8">−/−</tspan></text>
<line x1="38.7" y1="501.5" x2="38.7" y2="629" stroke="#231f20" stroke-width="1.3" stroke-linecap="butt"/>
<line x1="38.1" y1="628.4" x2="225.8" y2="628.4" stroke="#231f20" stroke-width="1.3" stroke-linecap="butt"/>
<line x1="35.1" y1="628.4" x2="38.7" y2="628.4" stroke="#231f20" stroke-width="1.1" stroke-linecap="butt"/>
<text x="33.2" y="631.75" font-size="8.6" fill="#231f20" text-anchor="end">0</text>
<line x1="35.1" y1="603.92" x2="38.7" y2="603.92" stroke="#231f20" stroke-width="1.1" stroke-linecap="butt"/>
<text x="33.2" y="607.27" font-size="8.6" fill="#231f20" text-anchor="end">20</text>
<line x1="35.1" y1="579.44" x2="38.7" y2="579.44" stroke="#231f20" stroke-width="1.1" stroke-linecap="butt"/>
<text x="33.2" y="582.79" font-size="8.6" fill="#231f20" text-anchor="end">40</text>
<line x1="35.1" y1="554.96" x2="38.7" y2="554.96" stroke="#231f20" stroke-width="1.1" stroke-linecap="butt"/>
<text x="33.2" y="558.31" font-size="8.6" fill="#231f20" text-anchor="end">60</text>
<line x1="35.1" y1="530.48" x2="38.7" y2="530.48" stroke="#231f20" stroke-width="1.1" stroke-linecap="butt"/>
<text x="33.2" y="533.83" font-size="8.6" fill="#231f20" text-anchor="end">80</text>
<line x1="35.1" y1="506" x2="38.7" y2="506" stroke="#231f20" stroke-width="1.1" stroke-linecap="butt"/>
<text x="33.2" y="509.35" font-size="8.6" fill="#231f20" textLength="12.2" lengthAdjust="spacingAndGlyphs" text-anchor="end">100</text>
<line x1="38.7" y1="628.4" x2="38.7" y2="631.6" stroke="#231f20" stroke-width="1.1" stroke-linecap="butt"/>
<text x="38.7" y="641.2" font-size="8.6" fill="#231f20" text-anchor="middle">0</text>
<line x1="75.42" y1="628.4" x2="75.42" y2="631.6" stroke="#231f20" stroke-width="1.1" stroke-linecap="butt"/>
<text x="75.42" y="641.2" font-size="8.6" fill="#231f20" text-anchor="middle">50</text>
<line x1="112.14" y1="628.4" x2="112.14" y2="631.6" stroke="#231f20" stroke-width="1.1" stroke-linecap="butt"/>
<text x="112.14" y="641.2" font-size="8.6" fill="#231f20" textLength="12.4" lengthAdjust="spacingAndGlyphs" text-anchor="middle">100</text>
<line x1="148.86" y1="628.4" x2="148.86" y2="631.6" stroke="#231f20" stroke-width="1.1" stroke-linecap="butt"/>
<text x="148.86" y="641.2" font-size="8.6" fill="#231f20" textLength="12.4" lengthAdjust="spacingAndGlyphs" text-anchor="middle">150</text>
<line x1="185.58" y1="628.4" x2="185.58" y2="631.6" stroke="#231f20" stroke-width="1.1" stroke-linecap="butt"/>
<text x="185.58" y="641.2" font-size="8.6" fill="#231f20" textLength="12.4" lengthAdjust="spacingAndGlyphs" text-anchor="middle">200</text>
<line x1="222.3" y1="628.4" x2="222.3" y2="631.6" stroke="#231f20" stroke-width="1.1" stroke-linecap="butt"/>
<text x="222.3" y="641.2" font-size="8.6" fill="#231f20" textLength="12.4" lengthAdjust="spacingAndGlyphs" text-anchor="middle">250</text>
<text x="130.8" y="652.3" font-size="8.6" fill="#231f20" textLength="15.5" lengthAdjust="spacingAndGlyphs" text-anchor="middle">Days</text>
<path d="M38.7 506 L206.1 506 L206.1 530.48 L215.4 530.48 L215.4 528.28" fill="none" stroke="#3bb44a" stroke-width="1.5" stroke-linejoin="miter"/>
<path d="M38.7 506 L92 506 L92 554.96 L128.8 554.96 L128.8 579.44 L136.9 579.44 L136.9 603.92 L162.4 603.92 L162.4 628.4" fill="none" stroke="#1b5089" stroke-width="1.5" stroke-linejoin="miter"/>
<path d="M80 506 L80 521.3 L82 521.3 L82 613.1 L91.3 613.1 L91.3 628.4" fill="none" stroke="#c8102e" stroke-width="1.5" stroke-linejoin="miter"/>
<text x="162.2" y="568" font-size="8.3" fill="#231f20" textLength="53" lengthAdjust="spacingAndGlyphs">MEP vs. GMP **</text>
<text x="162.2" y="579" font-size="8.3" fill="#231f20" textLength="49" lengthAdjust="spacingAndGlyphs">LSK vs. GMP **</text>
<text x="162.2" y="590.6" font-size="8.3" fill="#231f20" textLength="51.8" lengthAdjust="spacingAndGlyphs">MEP vs. LSK ***</text>
<text x="106.2" y="496.6" font-size="10.4" fill="#231f20" textLength="38.6" lengthAdjust="spacingAndGlyphs">J<tspan dy="-3.8" font-size="7.2">VF</tspan><tspan dy="3.8">P</tspan><tspan dy="-2.6" font-size="8">172/−</tspan></text>
<text transform="translate(15.2,378) rotate(-90)" font-size="9.4" fill="#231f20" textLength="51.5" lengthAdjust="spacingAndGlyphs" text-anchor="middle">Percent survival</text>
<text transform="translate(15.2,567) rotate(-90)" font-size="9.4" fill="#231f20" textLength="51.8" lengthAdjust="spacingAndGlyphs" text-anchor="middle">Percent survival</text>
<line x1="75.3" y1="665.2" x2="88.5" y2="665.2" stroke="#c8102e" stroke-width="1.4" stroke-linecap="butt"/>
<line x1="81.9" y1="665.2" x2="81.9" y2="663" stroke="#c8102e" stroke-width="1" stroke-linecap="butt"/>
<text x="90.7" y="668.3" font-size="8.4" fill="#231f20" textLength="14.6" lengthAdjust="spacingAndGlyphs">MEP</text>
<line x1="116.6" y1="665.2" x2="129.4" y2="665.2" stroke="#3bb44a" stroke-width="1.4" stroke-linecap="butt"/>
<line x1="123" y1="665.2" x2="123" y2="663" stroke="#3bb44a" stroke-width="1" stroke-linecap="butt"/>
<text x="132" y="668.3" font-size="8.4" fill="#231f20" textLength="17" lengthAdjust="spacingAndGlyphs">GMP</text>
<line x1="160.5" y1="665.2" x2="173.3" y2="665.2" stroke="#1b5089" stroke-width="1.4" stroke-linecap="butt"/>
<line x1="166.9" y1="665.2" x2="166.9" y2="663" stroke="#1b5089" stroke-width="1" stroke-linecap="butt"/>
<text x="175.8" y="668.3" font-size="8.4" fill="#231f20" textLength="12.6" lengthAdjust="spacingAndGlyphs">LSK</text>
<text x="314.8" y="301.9" font-size="8.2" fill="#231f20" textLength="11.6" lengthAdjust="spacingAndGlyphs">Chr</text>
<text x="333" y="301.9" font-size="8.2" fill="#231f20" text-anchor="middle">1</text>
<text x="356.8" y="301.9" font-size="8.2" fill="#231f20" text-anchor="middle">3</text>
<text x="378.3" y="301.9" font-size="8.2" fill="#231f20" text-anchor="middle">5</text>
<text x="398.8" y="301.9" font-size="8.2" fill="#231f20" text-anchor="middle">7</text>
<text x="415.8" y="301.9" font-size="8.2" fill="#231f20" text-anchor="middle">9</text>
<text x="433.5" y="301.9" font-size="8.2" fill="#231f20" textLength="8" lengthAdjust="spacingAndGlyphs" text-anchor="middle">11</text>
<text x="450.3" y="301.9" font-size="8.2" fill="#231f20" textLength="8" lengthAdjust="spacingAndGlyphs" text-anchor="middle">13</text>
<text x="465.6" y="301.9" font-size="8.2" fill="#231f20" textLength="8" lengthAdjust="spacingAndGlyphs" text-anchor="middle">15</text>
<text x="479.3" y="301.9" font-size="8.2" fill="#231f20" textLength="8" lengthAdjust="spacingAndGlyphs" text-anchor="middle">17</text>
<text x="490.6" y="301.9" font-size="8.2" fill="#231f20" textLength="8" lengthAdjust="spacingAndGlyphs" text-anchor="middle">19</text>
<path d="M318.6 391.5 L318.6 305.6 L511.5 305.6 L511.5 391.5" fill="none" stroke="#000" stroke-width="1.2"/>
<line x1="315" y1="309" x2="318.6" y2="309" stroke="#231f20" stroke-width="1.1" stroke-linecap="butt"/>
<text x="312.3" y="312.31" font-size="8.2" fill="#231f20" textLength="15" lengthAdjust="spacingAndGlyphs" text-anchor="end">10.0</text>
<line x1="315" y1="323" x2="318.6" y2="323" stroke="#231f20" stroke-width="1.1" stroke-linecap="butt"/>
<text x="312.3" y="326.31" font-size="8.2" fill="#231f20" text-anchor="end">4.0</text>
<line x1="315" y1="341.2" x2="318.6" y2="341.2" stroke="#231f20" stroke-width="1.1" stroke-linecap="butt"/>
<text x="312.3" y="344.51" font-size="8.2" fill="#231f20" text-anchor="end">2.0</text>
<line x1="315" y1="355.3" x2="318.6" y2="355.3" stroke="#231f20" stroke-width="1.1" stroke-linecap="butt"/>
<text x="312.3" y="358.61" font-size="8.2" fill="#231f20" text-anchor="end">1.0</text>
<path d="M318.6 477.6 L318.6 391.5 L511.5 391.5 L511.5 477.6" fill="none" stroke="#000" stroke-width="1.2"/>
<line x1="315" y1="395.8" x2="318.6" y2="395.8" stroke="#231f20" stroke-width="1.1" stroke-linecap="butt"/>
<text x="312.3" y="399.11" font-size="8.2" fill="#231f20" textLength="15" lengthAdjust="spacingAndGlyphs" text-anchor="end">10.0</text>
<line x1="315" y1="409.5" x2="318.6" y2="409.5" stroke="#231f20" stroke-width="1.1" stroke-linecap="butt"/>
<text x="312.3" y="412.81" font-size="8.2" fill="#231f20" text-anchor="end">4.0</text>
<line x1="315" y1="428" x2="318.6" y2="428" stroke="#231f20" stroke-width="1.1" stroke-linecap="butt"/>
<text x="312.3" y="431.31" font-size="8.2" fill="#231f20" text-anchor="end">2.0</text>
<line x1="315" y1="442" x2="318.6" y2="442" stroke="#231f20" stroke-width="1.1" stroke-linecap="butt"/>
<text x="312.3" y="445.31" font-size="8.2" fill="#231f20" text-anchor="end">1.0</text>
<line x1="315" y1="455.5" x2="318.6" y2="455.5" stroke="#231f20" stroke-width="1.1" stroke-linecap="butt"/>
<line x1="315" y1="475" x2="318.6" y2="475" stroke="#231f20" stroke-width="1.1" stroke-linecap="butt"/>
<line x1="318.6" y1="391.8" x2="511.5" y2="391.8" stroke="#000" stroke-width="2" stroke-linecap="butt"/>
<line x1="318.6" y1="477.6" x2="511.5" y2="477.6" stroke="#000" stroke-width="1.2" stroke-linecap="butt"/>
<rect x="324.3" y="336.3" width="19.1" height="10" fill="#cbcdce"/><rect x="343.4" y="338.2" width="0.5" height="10" fill="#cbcdce"/><rect x="343.9" y="336.3" width="19.1" height="10" fill="#cbcdce"/><rect x="363" y="334.4" width="4" height="10" fill="#cbcdce"/><rect x="367" y="344.6" width="5.2" height="10" fill="#cbcdce"/><rect x="372.2" y="334.2" width="1.6" height="10" fill="#cbcdce"/><rect x="373.8" y="336.3" width="14.5" height="10" fill="#cbcdce"/><rect x="388.3" y="347.7" width="1.5" height="10" fill="#cbcdce"/><rect x="389.8" y="336.3" width="32.9" height="10" fill="#cbcdce"/><rect x="422.7" y="323.5" width="0.6" height="10" fill="#cbcdce"/><rect x="423.3" y="347.2" width="5.5" height="10" fill="#cbcdce"/><rect x="428.8" y="336.3" width="15.8" height="10" fill="#cbcdce"/><rect x="444.6" y="338.5" width="1.6" height="10" fill="#cbcdce"/><rect x="446.2" y="336" width="22.1" height="10" fill="#cbcdce"/><rect x="468.3" y="337.8" width="7.9" height="10" fill="#cbcdce"/><rect x="476.2" y="336" width="18.7" height="10" fill="#cbcdce"/><rect x="494.9" y="347" width="2.5" height="10" fill="#cbcdce"/><rect x="497.4" y="383.5" width="0.2" height="10" fill="#cbcdce"/><rect x="497.6" y="338.2" width="7.5" height="10" fill="#cbcdce"/>
<path d="M330.49 344.35h0.01M325.68 345.54h0.01M334.54 340.47h0.01M333.99 342.23h0.01M325.02 340.05h0.01M326.03 341.85h0.01M332.41 342.16h0.01M328.56 339.66h0.01M336.28 345.77h0.01M331.88 339.78h0.01M342.95 348.12h0.01M329.83 343.35h0.01M327.06 343.58h0.01M339.89 343.39h0.01M327.75 336.82h0.01M331.41 338.78h0.01M334.76 342.47h0.01M328.23 341.79h0.01M337.3 338.49h0.01M335.48 342.67h0.01M332.96 339.33h0.01M337.65 347.39h0.01M328.96 337.38h0.01M341.02 339.32h0.01M338.23 338.92h0.01M326.56 348.5h0.01M332.29 341.39h0.01M333.64 339.23h0.01M325.05 338.29h0.01M335.24 335.97h0.01M341.02 339.14h0.01M335.65 346.41h0.01M335.38 334.67h0.01M342.34 343.17h0.01M333.36 340.65h0.01M337.7 340.21h0.01M336.66 347.98h0.01M329.74 341.01h0.01M331.67 340.92h0.01M333.12 340.63h0.01M327.51 342.23h0.01M338.97 342.14h0.01M326.77 341.35h0.01M340.94 344.88h0.01M325.84 336.98h0.01M341.17 342.73h0.01M339.95 343.21h0.01M332.23 339.11h0.01M331.15 348.06h0.01M327.18 335.28h0.01M327.67 341.6h0.01M333.56 343.91h0.01M335.55 341.27h0.01M332.3 341.63h0.01M331.35 334.1h0.01M337.49 337.69h0.01M334.15 337.3h0.01M343.43 339.56h0.01M361.08 342.67h0.01M359.14 334.1h0.01M351.39 339.94h0.01M356.01 342.3h0.01M345.09 343.55h0.01M347 342.31h0.01M350.4 341.37h0.01M346.79 341.33h0.01M345.84 340.76h0.01M360.6 341.92h0.01M355.63 342.93h0.01M350.54 343.51h0.01M350.86 346.32h0.01M362.87 346.18h0.01M352.8 339.78h0.01M345.85 341.45h0.01M350.44 340.67h0.01M346.98 348.04h0.01M344.34 345.51h0.01M346.7 339.96h0.01M354.27 345.65h0.01M362.59 342.05h0.01M360.39 340.37h0.01M350.9 338.66h0.01M347.09 341.91h0.01M358.78 336.9h0.01M350.2 342.41h0.01M362.71 347.78h0.01M360.19 343.59h0.01M358.03 335.06h0.01M348.23 337.95h0.01M344.45 340.93h0.01M344.43 340.79h0.01M357.13 344.04h0.01M362.17 334.1h0.01M362.77 344.06h0.01M362.14 339.62h0.01M348.23 343.21h0.01M347.66 342.72h0.01M361.1 346.13h0.01M359.95 336.11h0.01M359.17 341.97h0.01M345.52 337.09h0.01M358.84 334.62h0.01M358.23 339.06h0.01M358.97 341.61h0.01M350.25 344.32h0.01M351.46 334.1h0.01M351.57 346.76h0.01M347.15 339.4h0.01M346.33 345.84h0.01M359.3 347.65h0.01M346.69 345.97h0.01M356.45 334.1h0.01M350.59 339.48h0.01M344.17 340.73h0.01M362.44 338.7h0.01M366.73 335.84h0.01M364.74 344.06h0.01M363.84 334.54h0.01M364.01 338.69h0.01M365.35 341.97h0.01M364.04 337.73h0.01M366.64 340.33h0.01M364.42 334.8h0.01M366.62 340.64h0.01M364.68 343.09h0.01M365.13 337.3h0.01M365.09 343.25h0.01M367.95 350.05h0.01M367.02 350.27h0.01M369.46 347.49h0.01M370.77 346.6h0.01M369.7 348.49h0.01M369.89 349.96h0.01M369.91 347.93h0.01M368.29 348.56h0.01M369.64 355.7h0.01M369.92 350.1h0.01M369.3 342.4h0.01M370.19 345.29h0.01M370.6 349.45h0.01M369.35 345.58h0.01M371.9 348.75h0.01M373.32 345.34h0.01M372.62 333.18h0.01M373.1 345.66h0.01M372.42 336.79h0.01M375.56 339.99h0.01M377.29 341.8h0.01M374.86 338.25h0.01M386.81 335.79h0.01M376.04 340.18h0.01M375.87 336.13h0.01M386.6 343.78h0.01M387.61 340.79h0.01M379.57 334.1h0.01M385.87 342.17h0.01M376.14 337.36h0.01M378.72 343.11h0.01M376.64 338.9h0.01M374.08 346.54h0.01M381.83 340.66h0.01M378.61 341.55h0.01M382.85 339.99h0.01M388.08 341.2h0.01M385.23 342.97h0.01M377.65 341h0.01M374.37 341.82h0.01M375.68 338.49h0.01M379.92 346.95h0.01M377.55 337.78h0.01M375.97 345.39h0.01M383.96 339.02h0.01M375.1 346.44h0.01M379.97 343.24h0.01M374.85 346.03h0.01M385.42 339.37h0.01M375.01 342.13h0.01M386.31 340.25h0.01M380.38 338.87h0.01M387.24 345.17h0.01M377.68 344.33h0.01M377.26 344.5h0.01M375.39 341.91h0.01M376.73 342.28h0.01M378.32 339.24h0.01M378 347.02h0.01M381.05 342.75h0.01M374.06 344.29h0.01M377.43 347.12h0.01M389.13 353.26h0.01M388.58 345.5h0.01M388.46 354.03h0.01M389.53 348.87h0.01M417.26 343.04h0.01M402.73 335.81h0.01M422.12 341.07h0.01M401.07 344.09h0.01M410.72 336.4h0.01M403.11 340.61h0.01M394.07 342.28h0.01M392.13 341.14h0.01M395.17 338.54h0.01M392.58 345.25h0.01M411.86 335.19h0.01M399.08 341.45h0.01M404.92 344.29h0.01M394.98 338.65h0.01M421.44 342.24h0.01M421.8 338.72h0.01M421.57 340.51h0.01M399.98 341.2h0.01M402.36 341.43h0.01M405.42 338.89h0.01M406.41 341.26h0.01M389.96 341.16h0.01M402.94 342.86h0.01M391.17 344.34h0.01M397.46 341.73h0.01M409.07 335.4h0.01M411.43 340.21h0.01M413.36 343.89h0.01M400.53 338.84h0.01M422.2 344.71h0.01M410.96 345.96h0.01M391.24 345.18h0.01M410.44 334.77h0.01M413.94 342.05h0.01M407.03 339.48h0.01M406.39 344.61h0.01M416.99 335.7h0.01M409.02 345.57h0.01M412.61 337.9h0.01M397.37 343.19h0.01M401.67 341.67h0.01M393.25 343.66h0.01M410.45 337.35h0.01M410.4 339.54h0.01M389.91 337.52h0.01M416.04 341.25h0.01M407.41 337.04h0.01M411.49 346.68h0.01M398.1 343.67h0.01M392.25 340.73h0.01M396.55 347.09h0.01M414.14 345.45h0.01M402.39 340.66h0.01M405.56 338.81h0.01M410.1 335.68h0.01M410.95 343.1h0.01M398.15 342.25h0.01M414.25 339.74h0.01M390.21 345.69h0.01M391.8 340.67h0.01M412.57 346.64h0.01M412.03 340.2h0.01M405.09 345.5h0.01M405.14 346.9h0.01M396.36 346.46h0.01M421.98 341.92h0.01M404.9 341.04h0.01M416.77 345.15h0.01M398.64 340.52h0.01M396.7 343.63h0.01M408.93 340.47h0.01M394.46 334.1h0.01M394.16 339.96h0.01M416.79 334.1h0.01M412.94 340.89h0.01M397.41 344.63h0.01M390.62 338.81h0.01M389.92 337.36h0.01M399.73 341.51h0.01M394.43 339.55h0.01M417.44 343.91h0.01M389.86 341.33h0.01M393.75 334.42h0.01M420.28 339.52h0.01M399.34 334.1h0.01M402.05 334.1h0.01M409.18 348.5h0.01M401.67 338.7h0.01M391.39 342.56h0.01M393.15 342.8h0.01M420.58 338.76h0.01M398 340.88h0.01M396.05 345.58h0.01M402.08 348.49h0.01M416.51 339.27h0.01M410.56 348.5h0.01M407.87 336.87h0.01M413.47 346.86h0.01M422.97 330.29h0.01M427.44 350.38h0.01M423.57 349.87h0.01M428.4 355.04h0.01M425.19 355.12h0.01M424.94 351.52h0.01M424.73 345h0.01M426.91 350.76h0.01M425.47 356.56h0.01M424.22 353.5h0.01M428.28 354.29h0.01M426.03 353.67h0.01M428.78 359.4h0.01M425.77 353.7h0.01M423.8 354.01h0.01M425.18 354.44h0.01M424.72 353.64h0.01M437.8 345.85h0.01M435.32 337.4h0.01M435.34 337.84h0.01M434.14 340.77h0.01M429.78 339.68h0.01M430.79 348.5h0.01M436.75 336.38h0.01M432.21 336.08h0.01M433.08 341.34h0.01M435.84 344.94h0.01M443.87 345.55h0.01M429.14 335.35h0.01M429.31 339.37h0.01M436.28 334.1h0.01M438.08 344.89h0.01M443.44 341.3h0.01M441.84 347.23h0.01M432.73 334.1h0.01M430.52 343.77h0.01M439.58 344.91h0.01M443.68 340.38h0.01M440.88 336.18h0.01M436.03 340.33h0.01M441.16 340.97h0.01M432.47 345.84h0.01M433.6 338.8h0.01M430.82 341.24h0.01M439.84 346.42h0.01M430.57 345.27h0.01M438.01 343.18h0.01M434.93 342.11h0.01M428.97 346.11h0.01M433.56 334.1h0.01M438.98 343.52h0.01M442.76 338.7h0.01M432.7 341.71h0.01M443.98 340.43h0.01M429.14 338.34h0.01M436.67 339.58h0.01M432.86 337.96h0.01M439.34 343.6h0.01M429.34 340.13h0.01M434.14 336.51h0.01M431.93 343.91h0.01M441.39 341.01h0.01M432.04 337.04h0.01M444.12 338.78h0.01M444.97 349.67h0.01M444.95 343.7h0.01M446.12 340.5h0.01M445.39 344.48h0.01M455.42 343.36h0.01M460.9 342.92h0.01M454.9 340.36h0.01M450.91 342.97h0.01M447.35 340.68h0.01M447.53 334.97h0.01M465.73 345.78h0.01M462.39 348.2h0.01M453.48 340.87h0.01M450.3 346.49h0.01M446.9 338.66h0.01M460.88 338.48h0.01M453.53 343.41h0.01M449.94 343.92h0.01M453.97 341.05h0.01M467.32 347.62h0.01M450.78 347.52h0.01M454.08 343.91h0.01M455.76 334.98h0.01M447.29 337.57h0.01M466.52 341.58h0.01M450.47 335.95h0.01M446.87 346.78h0.01M455.28 343.33h0.01M447.1 335.32h0.01M446.97 348.2h0.01M451.88 344.1h0.01M462.72 343.63h0.01M452.22 339.05h0.01M467.36 338.92h0.01M462.04 339.12h0.01M453.19 340.95h0.01M462.9 341.31h0.01M466.45 335.26h0.01M446.74 334.57h0.01M451.37 333.8h0.01M467.28 342.4h0.01M454.74 340.97h0.01M457.11 344.82h0.01M466.71 343.65h0.01M462.52 346.92h0.01M464.38 341.7h0.01M453.44 336.13h0.01M453.26 336.94h0.01M447.95 345.8h0.01M450.56 341.05h0.01M447.63 338.29h0.01M446.95 337.98h0.01M467.86 339.96h0.01M465.72 343.82h0.01M448.06 340.78h0.01M448.33 335.34h0.01M456.08 341.05h0.01M451.38 336.66h0.01M461.1 343.5h0.01M462.73 344.04h0.01M448.88 336.64h0.01M464.78 339.73h0.01M454.44 345.48h0.01M462.51 341.85h0.01M451.62 343.58h0.01M449.59 344.53h0.01M453.41 337.85h0.01M454.95 345.28h0.01M451.31 340.8h0.01M464.07 334.7h0.01M469.11 335.6h0.01M472.05 345.7h0.01M475.52 336.54h0.01M468.62 342.31h0.01M469.8 344.55h0.01M475.99 335.6h0.01M471.24 338.65h0.01M475.14 340.15h0.01M474.44 343.68h0.01M475.77 346.62h0.01M473.2 345.79h0.01M470.02 341.45h0.01M469.91 344.26h0.01M470.31 338.56h0.01M469.91 339.74h0.01M468.39 340.27h0.01M469.76 347.6h0.01M470.77 344.65h0.01M472.63 348.94h0.01M468.8 345.7h0.01M472.65 344.95h0.01M473.35 344.61h0.01M473.79 343.97h0.01M483.86 340.36h0.01M494.02 344.02h0.01M482.04 337.91h0.01M483.99 339.63h0.01M492.36 344.42h0.01M479.89 340.93h0.01M489.81 341.11h0.01M493.06 341.37h0.01M484.12 342.57h0.01M492.71 337.68h0.01M484.82 341.33h0.01M486.51 341.53h0.01M488.18 342.31h0.01M487.84 340.17h0.01M483.13 338.98h0.01M481.5 340.94h0.01M485.95 342.54h0.01M485.37 340.22h0.01M491.25 343.34h0.01M478.57 340.51h0.01M493.84 345.08h0.01M477.2 340.37h0.01M493.52 335.06h0.01M487.8 346.05h0.01M491.62 344.38h0.01M480.35 346.34h0.01M483.76 344.85h0.01M479.62 335.43h0.01M480.28 337.49h0.01M483.37 343.56h0.01M478.5 341.11h0.01M492.98 346.78h0.01M476.97 335.4h0.01M476.91 338.69h0.01M491.87 344.6h0.01M486.49 344.28h0.01M487.93 339.7h0.01M487.1 344.53h0.01M484.16 338.88h0.01M484.4 337.71h0.01M476.64 337.94h0.01M480.6 338.16h0.01M490.48 341.75h0.01M479.56 337.08h0.01M485.05 342.48h0.01M484.25 342.18h0.01M477.92 336.98h0.01M476.96 342.53h0.01M488.1 346.09h0.01M490.74 343.89h0.01M485.76 345.02h0.01M483.27 342.43h0.01M493.98 345.66h0.01M494.83 346.36h0.01M489.89 341.94h0.01M494.56 338.83h0.01M496.13 359.2h0.01M495.31 349.84h0.01M496.87 353.2h0.01M495.78 351.44h0.01M496.79 356.16h0.01M495.59 358.44h0.01M496.94 354.64h0.01M504.5 346.54h0.01M499.16 342.85h0.01M499.99 347.46h0.01M497.88 344.08h0.01M504.62 345.14h0.01M502.7 344.93h0.01M503.49 341.86h0.01M498.46 338.17h0.01M500.3 342.22h0.01M504.15 338.74h0.01M504.22 341.59h0.01M498.38 348.27h0.01M500.56 342.98h0.01M503.58 342.18h0.01M501.93 350.4h0.01M500.3 343.56h0.01M498.93 339.33h0.01M503.18 349.56h0.01M499.5 345.19h0.01M502.39 347.96h0.01M502.58 342.72h0.01M499.94 344.14h0.01" stroke="#c0c2c3" stroke-width="1.8" stroke-linecap="round" fill="none"/>
<path d="M346.2 312.7h0.01M331.6 330.8h0.01M371.8 326.3h0.01M382.3 334.6h0.01M395.6 334.2h0.01M414 331h0.01M412.4 310h0.01M422.3 320.4h0.01M422.3 322.8h0.01M419.6 348.8h0.01M426.8 359.8h0.01M504.7 334.4h0.01M504.7 358.7h0.01M493.5 356.7h0.01M478.2 334.2h0.01" stroke="#b4b4b4" stroke-width="2.6" stroke-linecap="round" fill="none"/>
<path d="M324.3 341.3 L343.4 341.3 L343.4 341.3 L343.4 343.2 L343.9 343.2 L343.9 343.2 L343.9 341.3 L363 341.3 L363 341.3 L363 339.4 L367 339.4 L367 339.4 L367 349.6 L372.2 349.6 L372.2 349.6 L372.2 339.2 L373.8 339.2 L373.8 339.2 L373.8 341.3 L388.3 341.3 L388.3 341.3 L388.3 352.7 L389.8 352.7 L389.8 352.7 L389.8 341.3 L422.7 341.3 L422.7 341.3 L422.7 328.5 L423.3 328.5 L423.3 328.5 L423.3 352.2 L428.8 352.2 L428.8 352.2 L428.8 341.3 L444.6 341.3 L444.6 341.3 L444.6 343.5 L446.2 343.5 L446.2 343.5 L446.2 341 L468.3 341 L468.3 341 L468.3 342.8 L476.2 342.8 L476.2 342.8 L476.2 341 L494.9 341 L494.9 341 L494.9 352 L497.4 352 L497.4 352 L497.4 388.5 L497.6 388.5 L497.6 388.5 L497.6 343.2 L505.1 343.2" fill="none" stroke="#ff2200" stroke-width="2.5" stroke-linejoin="miter"/>
<text x="333.6" y="377.4" font-size="8.6" fill="#231f20" textLength="37.8" lengthAdjust="spacingAndGlyphs">MEP J<tspan dy="-3.2" font-size="6.2">VF</tspan><tspan dy="3.2">P</tspan><tspan dy="-2.4" font-size="6.4">−/−</tspan></text>
<line x1="372.5" y1="377.6" x2="400.7" y2="377.6" stroke="#ff2200" stroke-width="1.6" stroke-linecap="butt"/>
<rect x="324.7" y="423.3" width="37.5" height="10" fill="#cbcdce"/><rect x="362.2" y="423.8" width="21.2" height="10" fill="#cbcdce"/><rect x="383.4" y="423" width="9.6" height="10" fill="#cbcdce"/><rect x="393" y="423.6" width="41" height="10" fill="#cbcdce"/><rect x="434" y="425.5" width="2" height="10" fill="#cbcdce"/><rect x="436" y="423.4" width="3.5" height="10" fill="#cbcdce"/><rect x="439.5" y="427.4" width="1.5" height="10" fill="#cbcdce"/><rect x="441" y="423.4" width="9" height="10" fill="#cbcdce"/><rect x="450" y="425.5" width="1.5" height="10" fill="#cbcdce"/><rect x="451.5" y="423.3" width="38.4" height="10" fill="#cbcdce"/><rect x="489.9" y="422.3" width="3.8" height="10" fill="#cbcdce"/><rect x="493.7" y="436.4" width="11.6" height="10" fill="#cbcdce"/>
<path d="M330.3 428.31h0.01M347.8 424.37h0.01M358.28 430.08h0.01M329.65 429.05h0.01M325.54 433.49h0.01M324.8 427.25h0.01M338.09 429.65h0.01M333.11 424.15h0.01M332.36 425.89h0.01M348.1 426.39h0.01M359.82 428.6h0.01M333.83 429.26h0.01M348.63 429.6h0.01M357.37 429.03h0.01M334.61 424.72h0.01M325.13 425.46h0.01M337.84 424.64h0.01M348.91 421.1h0.01M352.21 431.23h0.01M334.02 429.19h0.01M344.63 427.68h0.01M339.92 428.4h0.01M353.91 429.54h0.01M325.16 421.1h0.01M330.03 425.61h0.01M332.18 424.97h0.01M348.76 425.61h0.01M355.2 429.71h0.01M335.96 431.06h0.01M326.52 433.13h0.01M351.53 424.27h0.01M324.94 431.63h0.01M342.15 423.36h0.01M352.52 425.84h0.01M328.65 429.06h0.01M333.41 431.46h0.01M352.81 429.09h0.01M350.77 431.5h0.01M334.67 423.61h0.01M345.47 422.46h0.01M344.32 430.78h0.01M334.65 422.45h0.01M332.84 421.1h0.01M357.7 431.08h0.01M333.55 428.57h0.01M352.6 433.91h0.01M336.96 426.27h0.01M357.71 427.04h0.01M358.73 430.64h0.01M348.35 426.43h0.01M361.41 423.31h0.01M342.31 431.27h0.01M356.86 423.59h0.01M341.1 427.56h0.01M336.24 423.68h0.01M332.65 427.26h0.01M358.85 427.29h0.01M330.12 429.99h0.01M359.54 428.59h0.01M337.63 428.85h0.01M326.26 428.98h0.01M350.67 424.59h0.01M352.33 424.15h0.01M327.17 425.42h0.01M355.36 426.46h0.01M355.43 429.33h0.01M357.24 427.46h0.01M358.99 429.91h0.01M332.41 427.71h0.01M328.9 435.12h0.01M355.15 429.8h0.01M348.48 430.61h0.01M335.48 423.77h0.01M328.45 433.25h0.01M332.39 431.8h0.01M336.67 427.64h0.01M334.33 428.64h0.01M335.3 427.56h0.01M336.73 424.93h0.01M360.85 421.27h0.01M347.89 428.13h0.01M325.86 425.01h0.01M353.69 430.31h0.01M337.7 427.04h0.01M332.82 424.01h0.01M357.03 433.91h0.01M331.09 431.9h0.01M324.75 430.11h0.01M361.37 434.13h0.01M324.86 424.12h0.01M354.58 428.54h0.01M331.62 424.98h0.01M355.89 428.41h0.01M334.47 431.06h0.01M332.75 427.28h0.01M350.93 426.56h0.01M348.57 428.32h0.01M327.73 429.61h0.01M354.21 422.89h0.01M348.25 426.05h0.01M339.5 431.17h0.01M358.09 434.76h0.01M325.64 432.19h0.01M332.43 427.66h0.01M343.49 435.5h0.01M338.92 430.26h0.01M341.98 426.55h0.01M344.63 428.47h0.01M348.94 422.28h0.01M337.77 427.33h0.01M356.32 430.15h0.01M349.53 428.19h0.01M371.5 426.61h0.01M378.6 427.16h0.01M371.99 427.91h0.01M380.96 428.98h0.01M368.59 431.14h0.01M377.11 429.96h0.01M365.51 427.06h0.01M367.45 426.78h0.01M365.61 432.68h0.01M369.16 432.44h0.01M377.65 436h0.01M364.36 430.42h0.01M370.35 428.41h0.01M383.06 430.43h0.01M371.42 423.18h0.01M366.36 427.69h0.01M366.58 427.5h0.01M370.43 432.35h0.01M378.97 429.57h0.01M376.9 423.71h0.01M372.02 428.78h0.01M365.21 425.88h0.01M377.91 426.58h0.01M381.45 424.54h0.01M378.08 430.8h0.01M371.13 429.57h0.01M380.86 434.51h0.01M378.61 426.63h0.01M376.61 422.1h0.01M375.8 425.81h0.01M375.52 429.69h0.01M364.27 423.3h0.01M377.32 431.84h0.01M375.55 428.8h0.01M371.85 432.58h0.01M375.38 424.25h0.01M381.92 431.71h0.01M366.08 425.27h0.01M370.44 423.64h0.01M372.58 429.79h0.01M373.72 428.64h0.01M365.61 430.5h0.01M373.21 421.6h0.01M364.34 424.79h0.01M377.41 426.77h0.01M373.06 424.46h0.01M373.26 423.61h0.01M370.9 431.14h0.01M376.71 428.01h0.01M370.52 428.95h0.01M383.07 426.97h0.01M369.74 431.5h0.01M370.67 429.8h0.01M362.48 425.52h0.01M377 430.64h0.01M369.67 428.56h0.01M377.92 431.36h0.01M382.13 426.31h0.01M379.19 428.37h0.01M370.51 429.25h0.01M378.66 430.64h0.01M379.36 426.11h0.01M374.12 425.77h0.01M385.57 431.27h0.01M389.53 427.24h0.01M391.26 429.63h0.01M386.23 424.3h0.01M388.66 432.82h0.01M386.81 432.83h0.01M391.57 427.62h0.01M385.83 431.48h0.01M387.49 428.1h0.01M390.33 428.24h0.01M386.1 428.1h0.01M388 431.05h0.01M387.51 424.56h0.01M386.88 423.99h0.01M392.32 428.75h0.01M391.35 427.02h0.01M392.1 428.42h0.01M391.38 426.06h0.01M389.48 428.54h0.01M392.54 428.05h0.01M389.7 428h0.01M384.77 429.67h0.01M385.64 428.55h0.01M384.87 424.72h0.01M392.08 428.57h0.01M391.95 425.89h0.01M389.24 429.04h0.01M391.98 422.75h0.01M425.31 429.86h0.01M421.4 426.57h0.01M414.76 428.4h0.01M429.19 424.74h0.01M415.76 428.36h0.01M398.71 431.22h0.01M413.22 432.37h0.01M398.92 430.05h0.01M413.15 424.12h0.01M428.38 428.65h0.01M393.27 430.78h0.01M416.07 425.2h0.01M420.28 430.48h0.01M410.17 425.66h0.01M432.39 433.16h0.01M419.08 430.94h0.01M394.17 424.39h0.01M431.19 425.13h0.01M406.55 432.88h0.01M412.87 428.11h0.01M429.8 434.2h0.01M418.64 429.81h0.01M406.88 430.82h0.01M412.46 425.97h0.01M414.55 428.92h0.01M410.84 426.14h0.01M410.32 422.24h0.01M405.01 426.36h0.01M426.94 425.09h0.01M404.14 431.02h0.01M413.76 433.78h0.01M425.47 427.78h0.01M406.57 427.36h0.01M417.04 431.37h0.01M419.03 428.82h0.01M422.63 427.59h0.01M429.31 427.5h0.01M405.32 428.28h0.01M393.25 431.59h0.01M417.96 435.8h0.01M419.98 430.52h0.01M418.08 421.4h0.01M418.28 424.71h0.01M417.45 424.62h0.01M420.92 429.85h0.01M411.77 433.79h0.01M424.27 430.43h0.01M394.52 429.95h0.01M424.76 433.11h0.01M408.12 425.9h0.01M426.73 429.65h0.01M403.58 424.09h0.01M405.38 425.82h0.01M410.66 430.09h0.01M419.31 429.7h0.01M416.27 428.11h0.01M394.61 433.42h0.01M416.59 433.06h0.01M430.66 428.03h0.01M408.87 428.8h0.01M417.27 435.8h0.01M412.49 424.74h0.01M409.91 432.75h0.01M401.7 431.7h0.01M399.22 428.95h0.01M421.03 428.63h0.01M397.99 430.11h0.01M428.65 428.28h0.01M398.29 434.3h0.01M402.93 429.24h0.01M423.08 429.04h0.01M424.73 429.67h0.01M422.26 432.18h0.01M396.46 424.01h0.01M418.77 427.59h0.01M431.23 424.73h0.01M403.42 434.18h0.01M393.47 427.33h0.01M393.6 424.72h0.01M396.27 423.21h0.01M405.75 428.32h0.01M428.3 426.45h0.01M412.94 431.81h0.01M416.57 429.86h0.01M410.99 427.71h0.01M425.69 426.79h0.01M407.89 425.49h0.01M410.14 424.59h0.01M408.82 430.56h0.01M425.17 421.4h0.01M416.24 428.26h0.01M432.93 429.83h0.01M421.83 430.11h0.01M417.84 425.74h0.01M433.08 430.99h0.01M405.65 424.34h0.01M410.57 431.27h0.01M421.08 426.34h0.01M417.67 433.79h0.01M404.62 424.63h0.01M393.07 428.29h0.01M417.05 432.36h0.01M426.46 429.4h0.01M427.16 427.91h0.01M426.28 431.75h0.01M404.23 425.13h0.01M427.9 430.52h0.01M430.46 423.48h0.01M407.22 432.54h0.01M425.69 430.93h0.01M401.22 428.61h0.01M402.6 421.4h0.01M417.88 426.83h0.01M401.47 424.98h0.01M403.44 428.65h0.01M411.85 422.22h0.01M396.6 430.75h0.01M402.55 422.8h0.01M416.76 434.57h0.01M414.4 424.08h0.01M412.54 426.63h0.01M400.88 427.36h0.01M400.41 427.57h0.01M435.13 427.24h0.01M434.8 428.47h0.01M434.09 430.28h0.01M435.99 429.3h0.01M435.27 431.71h0.01M435.57 433.2h0.01M437.21 432.44h0.01M437.82 429.33h0.01M439.47 428.52h0.01M439.03 423.76h0.01M436.92 428.8h0.01M438.73 421.2h0.01M438.69 432.31h0.01M438.87 431.08h0.01M436.13 427.77h0.01M436.7 429.03h0.01M439.58 433.76h0.01M440.34 435.14h0.01M440.92 429.51h0.01M440.86 436.87h0.01M444.58 430.31h0.01M442.08 431.09h0.01M446.08 427.7h0.01M446.77 433.56h0.01M444.54 426.95h0.01M445.04 433.42h0.01M449.93 435.6h0.01M443 431.09h0.01M444.17 429.07h0.01M449.12 434.06h0.01M441.42 424.53h0.01M448.08 427.1h0.01M449.87 423.37h0.01M441.5 432.11h0.01M449.45 433.17h0.01M447.09 426.95h0.01M447.82 432.99h0.01M441.95 427.16h0.01M442.12 430.88h0.01M445.33 429.7h0.01M442.29 430.72h0.01M447.1 434.1h0.01M442.76 428.85h0.01M441.32 430.68h0.01M449.41 427.28h0.01M448.8 429.91h0.01M445.03 427.13h0.01M450.15 436.74h0.01M450.94 427.51h0.01M450.68 426.92h0.01M450.72 436.16h0.01M475.62 429.89h0.01M453.68 430.29h0.01M478.91 426.4h0.01M484.94 427.64h0.01M461.73 426.52h0.01M461.91 429.4h0.01M483.74 427.2h0.01M470.35 430.18h0.01M463.71 429.75h0.01M489.08 427.29h0.01M453.68 432.53h0.01M459.61 425.02h0.01M469.83 427.67h0.01M459.24 431.01h0.01M465.49 435.5h0.01M487.02 427.58h0.01M455.25 426.42h0.01M453.71 435.5h0.01M479.4 425.6h0.01M452.12 435.5h0.01M482.49 427.23h0.01M451.57 429.96h0.01M483.46 426.02h0.01M468.21 427.92h0.01M486.52 429.23h0.01M456.8 432.89h0.01M458.42 429.03h0.01M459.05 422.67h0.01M454.54 432.51h0.01M470.53 430.87h0.01M462.02 429.65h0.01M478.68 433.07h0.01M482.66 426.2h0.01M454.02 427.1h0.01M479.64 423.48h0.01M453.63 431.44h0.01M482.63 424.77h0.01M484.7 434.25h0.01M470.43 435.5h0.01M469.8 429.07h0.01M484.99 428.06h0.01M483.43 430.6h0.01M465.6 430.09h0.01M474.34 431.27h0.01M451.68 424.42h0.01M471.3 427.81h0.01M456.14 426.84h0.01M484.73 421.83h0.01M463.83 427.45h0.01M480.35 424.88h0.01M453.85 434.53h0.01M470.5 421.9h0.01M471.21 423.91h0.01M452.29 427.45h0.01M488.65 428.68h0.01M455.44 430.55h0.01M461.12 428.66h0.01M455.2 427.49h0.01M478.34 428.53h0.01M474.52 428.94h0.01M473.64 422.75h0.01M455.45 427.5h0.01M484.89 428.08h0.01M456.23 427.23h0.01M470.45 425.38h0.01M456.19 428.29h0.01M467.08 431.44h0.01M484.57 431.95h0.01M457.15 422.95h0.01M457.81 425.66h0.01M483.22 431.6h0.01M467.65 426.93h0.01M483.75 424.73h0.01M487.65 427.72h0.01M481.33 426.89h0.01M464.37 430.57h0.01M468.23 434.76h0.01M486.55 427.53h0.01M482.8 428.99h0.01M471.37 427.32h0.01M488.28 430.8h0.01M467.71 427.21h0.01M475.8 425.38h0.01M454.16 431.63h0.01M468.13 427.56h0.01M456.85 428.28h0.01M488.74 429.71h0.01M475.82 421.1h0.01M482.58 433.89h0.01M452.82 423.33h0.01M476.14 427.76h0.01M462 433.7h0.01M472.32 432.76h0.01M461.12 426.01h0.01M471.48 421.1h0.01M462.54 431.88h0.01M463.23 427.21h0.01M474.32 426.84h0.01M488.21 425.46h0.01M469.41 428.05h0.01M472 429.4h0.01M456.54 429.79h0.01M462.77 425.83h0.01M460.85 429.94h0.01M454.87 421.7h0.01M474.92 426.32h0.01M473.39 426.89h0.01M478.78 426.34h0.01M469.2 423.56h0.01M469.51 426.83h0.01M463.42 428.42h0.01M471.18 430.85h0.01M466.21 427.82h0.01M465.04 428.01h0.01M484.6 428.63h0.01M491.77 431.88h0.01M490.98 430.3h0.01M492.83 427.06h0.01M490.5 433.96h0.01M491.57 430.27h0.01M490.14 424.35h0.01M492.69 429.81h0.01M490.32 428.72h0.01M492.71 434.5h0.01M490.49 425.56h0.01M492.47 430.17h0.01M500.85 445.33h0.01M499.71 436h0.01M502.27 441.14h0.01M499.21 435.33h0.01M502.81 439.34h0.01M495.18 434.2h0.01M503.8 447.53h0.01M500.5 441.57h0.01M499.48 445.96h0.01M498.55 440.31h0.01M502.79 444.83h0.01M498.1 437.87h0.01M498.95 435.83h0.01M497.1 442.91h0.01M498.23 438.07h0.01M497.44 440.19h0.01M502.83 443.88h0.01M498.85 437.97h0.01M495.84 440.73h0.01M500.38 443.3h0.01M500.45 448.29h0.01M497.46 445.65h0.01M503.48 446.18h0.01M496.07 434.2h0.01M498.65 441.85h0.01M494.25 441.12h0.01M500.25 434.2h0.01M502.67 441.54h0.01M499.95 445.75h0.01M499.7 441.35h0.01M501.65 438.8h0.01M500.6 443.57h0.01M497.77 446.52h0.01M499.79 439.66h0.01" stroke="#c0c2c3" stroke-width="1.8" stroke-linecap="round" fill="none"/>
<path d="M345.5 396.2h0.01M331.5 416h0.01M371.8 413.5h0.01M373.8 420.3h0.01M358.4 421.2h0.01M390.1 422.4h0.01M412.2 396.2h0.01M414.7 417h0.01M429.7 393.5h0.01M504.3 430.1h0.01M499.5 447.4h0.01" stroke="#b4b4b4" stroke-width="2.6" stroke-linecap="round" fill="none"/>
<path d="M324.7 428.3 L362.2 428.3 L362.2 428.3 L362.2 428.8 L383.4 428.8 L383.4 428.8 L383.4 428 L393 428 L393 428 L393 428.6 L434 428.6 L434 428.6 L434 430.5 L436 430.5 L436 430.5 L436 428.4 L439.5 428.4 L439.5 428.4 L439.5 432.4 L441 432.4 L441 432.4 L441 428.4 L450 428.4 L450 428.4 L450 430.5 L451.5 430.5 L451.5 430.5 L451.5 428.3 L489.9 428.3 L489.9 428.3 L489.9 427.3 L493.7 427.3 L493.7 427.3 L493.7 441.4 L505.3 441.4" fill="none" stroke="#000" stroke-width="3.1" stroke-linejoin="miter"/>
<text x="328" y="464.4" font-size="8.6" fill="#231f20" textLength="43" lengthAdjust="spacingAndGlyphs">GMP J<tspan dy="-3.2" font-size="6.2">VF</tspan><tspan dy="3.2">P</tspan><tspan dy="-2.4" font-size="6.4">−/−</tspan></text>
<line x1="372.5" y1="464.2" x2="400.7" y2="464.2" stroke="#000" stroke-width="1.5" stroke-linecap="butt"/>
<text transform="translate(292.2,348.3) rotate(-90)" font-size="9.4" fill="#231f20" textLength="46" lengthAdjust="spacingAndGlyphs" text-anchor="middle">Copy number</text>
<text transform="translate(292.2,435.2) rotate(-90)" font-size="9.4" fill="#231f20" textLength="45.5" lengthAdjust="spacingAndGlyphs" text-anchor="middle">Copy number</text>
<text x="313" y="496.2" font-size="8.2" fill="#231f20" textLength="11.6" lengthAdjust="spacingAndGlyphs">Chr</text>
<text x="332.3" y="496.2" font-size="8.2" fill="#231f20" text-anchor="middle">1</text>
<text x="355.7" y="496.2" font-size="8.2" fill="#231f20" text-anchor="middle">3</text>
<text x="376.5" y="496.2" font-size="8.2" fill="#231f20" text-anchor="middle">5</text>
<text x="397" y="496.2" font-size="8.2" fill="#231f20" text-anchor="middle">7</text>
<text x="413.7" y="496.2" font-size="8.2" fill="#231f20" text-anchor="middle">9</text>
<text x="431.3" y="496.2" font-size="8.2" fill="#231f20" textLength="8" lengthAdjust="spacingAndGlyphs" text-anchor="middle">11</text>
<text x="448.3" y="496.2" font-size="8.2" fill="#231f20" textLength="8" lengthAdjust="spacingAndGlyphs" text-anchor="middle">13</text>
<text x="463.5" y="496.2" font-size="8.2" fill="#231f20" textLength="8" lengthAdjust="spacingAndGlyphs" text-anchor="middle">15</text>
<text x="477.3" y="496.2" font-size="8.2" fill="#231f20" textLength="8" lengthAdjust="spacingAndGlyphs" text-anchor="middle">17</text>
<text x="488.4" y="496.2" font-size="8.2" fill="#231f20" textLength="8" lengthAdjust="spacingAndGlyphs" text-anchor="middle">19</text>
<path d="M318.6 585.6 L318.6 500.3 L511.5 500.3 L511.5 585.6" fill="none" stroke="#000" stroke-width="1.2"/>
<line x1="315" y1="503" x2="318.6" y2="503" stroke="#231f20" stroke-width="1.1" stroke-linecap="butt"/>
<text x="312.3" y="506.31" font-size="8.2" fill="#231f20" textLength="15" lengthAdjust="spacingAndGlyphs" text-anchor="end">10.0</text>
<line x1="315" y1="517" x2="318.6" y2="517" stroke="#231f20" stroke-width="1.1" stroke-linecap="butt"/>
<text x="312.3" y="520.31" font-size="8.2" fill="#231f20" text-anchor="end">4.0</text>
<line x1="315" y1="535.8" x2="318.6" y2="535.8" stroke="#231f20" stroke-width="1.1" stroke-linecap="butt"/>
<text x="312.3" y="539.11" font-size="8.2" fill="#231f20" text-anchor="end">2.0</text>
<line x1="315" y1="550" x2="318.6" y2="550" stroke="#231f20" stroke-width="1.1" stroke-linecap="butt"/>
<text x="312.3" y="553.31" font-size="8.2" fill="#231f20" text-anchor="end">1.0</text>
<path d="M318.6 671.4 L318.6 585.6 L511.5 585.6 L511.5 671.4" fill="none" stroke="#000" stroke-width="1.2"/>
<line x1="315" y1="589.5" x2="318.6" y2="589.5" stroke="#231f20" stroke-width="1.1" stroke-linecap="butt"/>
<text x="312.3" y="592.81" font-size="8.2" fill="#231f20" textLength="15" lengthAdjust="spacingAndGlyphs" text-anchor="end">10.0</text>
<line x1="315" y1="603.3" x2="318.6" y2="603.3" stroke="#231f20" stroke-width="1.1" stroke-linecap="butt"/>
<text x="312.3" y="606.61" font-size="8.2" fill="#231f20" text-anchor="end">4.0</text>
<line x1="315" y1="621.8" x2="318.6" y2="621.8" stroke="#231f20" stroke-width="1.1" stroke-linecap="butt"/>
<text x="312.3" y="625.11" font-size="8.2" fill="#231f20" text-anchor="end">2.0</text>
<line x1="315" y1="635.5" x2="318.6" y2="635.5" stroke="#231f20" stroke-width="1.1" stroke-linecap="butt"/>
<text x="312.3" y="638.81" font-size="8.2" fill="#231f20" text-anchor="end">1.0</text>
<line x1="315" y1="649.5" x2="318.6" y2="649.5" stroke="#231f20" stroke-width="1.1" stroke-linecap="butt"/>
<line x1="315" y1="668" x2="318.6" y2="668" stroke="#231f20" stroke-width="1.1" stroke-linecap="butt"/>
<line x1="318.6" y1="585.6" x2="511.5" y2="585.6" stroke="#000" stroke-width="1.4" stroke-linecap="butt"/>
<line x1="318.6" y1="671.4" x2="511.5" y2="671.4" stroke="#000" stroke-width="1.2" stroke-linecap="butt"/>
<rect x="324.3" y="530.8" width="14.5" height="10" fill="#cbcdce"/><rect x="338.8" y="530.4" width="3.8" height="10" fill="#cbcdce"/><rect x="342.6" y="533" width="0.5" height="10" fill="#cbcdce"/><rect x="343.1" y="530.4" width="22.8" height="10" fill="#cbcdce"/><rect x="365.9" y="542.6" width="3.4" height="10" fill="#cbcdce"/><rect x="369.3" y="530.8" width="5.2" height="10" fill="#cbcdce"/><rect x="374.5" y="536" width="2.5" height="10" fill="#cbcdce"/><rect x="377" y="530.2" width="10" height="10" fill="#cbcdce"/><rect x="387" y="542.3" width="1.4" height="10" fill="#cbcdce"/><rect x="388.4" y="544" width="1.5" height="10" fill="#cbcdce"/><rect x="389.9" y="530.8" width="2.6" height="10" fill="#cbcdce"/><rect x="392.5" y="534.2" width="3.8" height="10" fill="#cbcdce"/><rect x="396.3" y="531.7" width="15.2" height="10" fill="#cbcdce"/><rect x="411.5" y="529.6" width="9.5" height="10" fill="#cbcdce"/><rect x="421" y="506.8" width="1.7" height="10" fill="#cbcdce"/><rect x="422.7" y="514.6" width="1.5" height="10" fill="#cbcdce"/><rect x="424.2" y="542.6" width="3.3" height="10" fill="#cbcdce"/><rect x="427.5" y="529.6" width="11.5" height="10" fill="#cbcdce"/><rect x="439" y="541.7" width="1" height="10" fill="#cbcdce"/><rect x="440" y="544.5" width="1" height="10" fill="#cbcdce"/><rect x="441" y="530.8" width="20.9" height="10" fill="#cbcdce"/><rect x="461.9" y="527.2" width="14.5" height="10" fill="#cbcdce"/><rect x="476.4" y="533.5" width="1.1" height="10" fill="#cbcdce"/><rect x="477.5" y="532" width="1.8" height="10" fill="#cbcdce"/><rect x="479.3" y="534.4" width="2.9" height="10" fill="#cbcdce"/><rect x="482.2" y="530.6" width="18.3" height="10" fill="#cbcdce"/><rect x="500.5" y="534" width="4.8" height="10" fill="#cbcdce"/>
<path d="M325.74 533.23h0.01M332.44 538.39h0.01M332.62 542.57h0.01M331.36 529.43h0.01M330.68 528.6h0.01M329.28 528.6h0.01M331.99 536.69h0.01M328.91 533.78h0.01M338.49 537.78h0.01M325.9 531.97h0.01M337.27 533.34h0.01M338.66 529.6h0.01M337.18 533.95h0.01M328.5 536.8h0.01M331.72 533.48h0.01M326.94 535.73h0.01M333.44 533.12h0.01M338.71 533.77h0.01M333.53 539.38h0.01M335.72 536.77h0.01M328.75 535.68h0.01M328.71 535.5h0.01M336.51 531.22h0.01M327.15 533.04h0.01M331.52 533.13h0.01M333.68 534.87h0.01M332.01 540.51h0.01M330.26 535.71h0.01M326.06 539.16h0.01M325.85 540.86h0.01M325.75 537.9h0.01M336.24 539.64h0.01M333.19 536.25h0.01M324.48 534.59h0.01M335.47 533.28h0.01M329.43 540.92h0.01M326.76 535.63h0.01M337.41 537.44h0.01M332.74 533.51h0.01M329.89 539h0.01M325.09 539.48h0.01M338.21 532.78h0.01M330.67 533.81h0.01M338.97 533.53h0.01M342.34 537.31h0.01M342.22 532.92h0.01M341.9 533.78h0.01M342.45 540.01h0.01M340.68 537.95h0.01M340.28 534.57h0.01M341.53 535.95h0.01M342.13 538.45h0.01M340.64 536.11h0.01M339.46 532.81h0.01M342.78 541.73h0.01M349.73 542.6h0.01M355.9 538.74h0.01M351.89 538.34h0.01M352.29 537.09h0.01M361.93 536.14h0.01M351.11 535.47h0.01M349.57 537.74h0.01M348.51 540.59h0.01M350.88 536.56h0.01M346.65 534.97h0.01M349.25 533.87h0.01M362.14 538.11h0.01M362.17 538.2h0.01M361.45 537.21h0.01M359.57 538.23h0.01M351.69 537.78h0.01M364.78 534.76h0.01M354.61 535.96h0.01M346.09 539.31h0.01M359.21 534.88h0.01M356.5 542.6h0.01M351.49 535.52h0.01M347.95 540.33h0.01M362.99 538.5h0.01M355.47 538.41h0.01M349.27 535.88h0.01M358.09 531.88h0.01M356.04 534.07h0.01M345.06 538.72h0.01M347.14 537.28h0.01M358.21 532.85h0.01M345.58 532.25h0.01M354.51 534.11h0.01M349.87 538.25h0.01M348.26 536.65h0.01M345.98 534.79h0.01M352.3 532.53h0.01M363.82 536.57h0.01M362.74 528.2h0.01M346.11 535.25h0.01M358.6 536.27h0.01M358.23 533.19h0.01M358.13 538.38h0.01M359.04 535.47h0.01M351.13 542.37h0.01M357.44 536.14h0.01M363.91 537.02h0.01M359.84 535.16h0.01M344.01 534.39h0.01M346.79 536.38h0.01M351.78 538.3h0.01M343.99 533.48h0.01M347.2 540.16h0.01M362.24 530.23h0.01M348.91 532.96h0.01M353.02 534.06h0.01M343.12 532.34h0.01M362.12 535.89h0.01M344.08 532.48h0.01M362.57 534.52h0.01M348.67 534.7h0.01M345.64 536.04h0.01M363.95 533.01h0.01M360.19 540.15h0.01M352.07 538.26h0.01M360.14 536.79h0.01M345.15 532.83h0.01M364.68 528.2h0.01M368.25 551.42h0.01M368.41 550.04h0.01M367.44 543.16h0.01M366.08 546.38h0.01M367.64 543.99h0.01M369.06 551.84h0.01M366.05 551.98h0.01M368.29 548.56h0.01M367.76 544.97h0.01M369.2 544.67h0.01M370.6 532.37h0.01M369.61 533.48h0.01M370.35 538.69h0.01M370.91 539.49h0.01M372.79 540.07h0.01M370.54 536.03h0.01M371.61 540.13h0.01M374.17 533.99h0.01M373.9 538.24h0.01M370.04 532.81h0.01M373.54 534.54h0.01M372.15 535.94h0.01M372.77 533.61h0.01M372.41 529.84h0.01M373.62 537.28h0.01M374.79 540.17h0.01M375.02 544.3h0.01M374.65 540.54h0.01M376.25 543.34h0.01M375.62 543.42h0.01M375.67 543.08h0.01M375.41 541.68h0.01M377.11 536.41h0.01M386.92 535.2h0.01M384.17 533.69h0.01M386.8 533.61h0.01M381.89 534.53h0.01M381.34 536.86h0.01M377.08 539.39h0.01M386.2 532.09h0.01M386.35 531.21h0.01M383.53 535.18h0.01M378.39 537.91h0.01M377.28 536.25h0.01M379.96 528.39h0.01M378.86 530.7h0.01M386.27 529.89h0.01M378.68 536.66h0.01M384.42 528.58h0.01M380.27 537.89h0.01M380.2 541.36h0.01M380.69 531.92h0.01M385.31 534.11h0.01M379.39 539.7h0.01M383.28 536.39h0.01M385.2 533.05h0.01M386.45 528h0.01M381.94 533.09h0.01M380 535.21h0.01M382.81 540.01h0.01M378.64 537.85h0.01M381.43 536.73h0.01M387.06 547.01h0.01M387.62 549.4h0.01M387 552.67h0.01M388.18 551.19h0.01M389.04 544.01h0.01M388.82 546.72h0.01M389.03 545.32h0.01M388.91 544.06h0.01M392.05 537.8h0.01M392.25 537.34h0.01M391.05 538.39h0.01M391.36 534.43h0.01M390.12 537.74h0.01M390.74 528.6h0.01M392.26 538.16h0.01M395.79 546.4h0.01M394.86 537.72h0.01M395.58 544.23h0.01M394.81 541.19h0.01M393.63 532h0.01M394.33 535.36h0.01M394.96 538.19h0.01M395.86 542.34h0.01M392.61 541.23h0.01M394.2 544.23h0.01M392.82 537.35h0.01M405.13 533.76h0.01M402.63 532.14h0.01M402.32 535.83h0.01M398.04 539.9h0.01M404.63 543.55h0.01M398.01 538.48h0.01M397.74 534.6h0.01M404.37 536.66h0.01M404.72 540.87h0.01M399.74 535.12h0.01M404.1 535.92h0.01M405.24 539.93h0.01M397.42 538.48h0.01M402.98 539.68h0.01M407.16 533.26h0.01M407.8 543.9h0.01M407.27 543.9h0.01M397.85 538.43h0.01M398.9 533.56h0.01M410.89 530.96h0.01M398.38 534.3h0.01M408.1 539.18h0.01M401.96 537.64h0.01M396.53 534.63h0.01M400.86 535.31h0.01M407.05 529.96h0.01M405.74 540.08h0.01M409.56 529.5h0.01M409.54 533.6h0.01M398.85 536.61h0.01M407.91 533.41h0.01M406.64 537.54h0.01M401.97 535.06h0.01M407.51 542.15h0.01M396.96 534.85h0.01M405.48 540.38h0.01M408.51 539.36h0.01M398.02 541.52h0.01M400.17 534.26h0.01M399.24 530.21h0.01M405.14 538.96h0.01M398.03 538.43h0.01M408.47 536.93h0.01M399.12 533.89h0.01M406.74 535.7h0.01M415.12 539.13h0.01M416.62 540.38h0.01M418.05 537.74h0.01M411.63 527.4h0.01M414.75 537.08h0.01M419.79 538.05h0.01M419.1 536.83h0.01M419.27 535.1h0.01M417.96 531.41h0.01M413 537.16h0.01M419.53 528.87h0.01M417.3 539.14h0.01M412.22 533.4h0.01M419.99 536.81h0.01M417.1 536.71h0.01M414.93 535.19h0.01M415.94 531.44h0.01M414.86 532.94h0.01M411.56 531.75h0.01M411.69 533.05h0.01M415.86 535.69h0.01M412.89 534.51h0.01M417.87 534.19h0.01M416.25 537.45h0.01M413.99 530.6h0.01M420.59 532.75h0.01M420.93 539.11h0.01M418.82 535.58h0.01M422.48 512.58h0.01M422.08 506.76h0.01M421.62 510.54h0.01M422.48 518.09h0.01M422.6 510.52h0.01M423.84 516.82h0.01M423.81 514.5h0.01M423.23 519.31h0.01M423.53 518.54h0.01M425.31 548.31h0.01M425.27 551.71h0.01M425.41 547.3h0.01M425 547.92h0.01M424.65 550.92h0.01M424.22 550.33h0.01M425.67 544.73h0.01M426.08 546.89h0.01M424.42 549.67h0.01M430.97 532.52h0.01M433.84 540.01h0.01M438.28 530.23h0.01M434.21 541.44h0.01M428.42 536.65h0.01M438.86 538.88h0.01M431.61 535.18h0.01M437.49 530.84h0.01M428.28 527.4h0.01M430.67 535.35h0.01M430.46 536.74h0.01M430.58 534.91h0.01M435.6 535.32h0.01M429.8 538.16h0.01M434.43 538.02h0.01M429.76 530.68h0.01M435.94 539.35h0.01M428.41 533.48h0.01M436.81 536.93h0.01M429.07 532.28h0.01M429.66 527.45h0.01M434.86 532.91h0.01M438.11 535.35h0.01M436.12 537.71h0.01M434.96 530.11h0.01M431.38 537.64h0.01M428.16 533.66h0.01M434.7 535.16h0.01M431.35 529.74h0.01M430.46 534.77h0.01M432.83 541.8h0.01M433.99 535.3h0.01M438.86 539.26h0.01M435.83 536.31h0.01M439.33 548.45h0.01M439.14 547.86h0.01M439.77 552.28h0.01M440.42 553.03h0.01M440.54 545.61h0.01M440.66 547.08h0.01M453.57 532.92h0.01M446.39 540.97h0.01M455.87 536.32h0.01M447.46 529.59h0.01M457.15 539.72h0.01M446.82 535.24h0.01M451.94 537.58h0.01M441.19 535.11h0.01M450.94 532.32h0.01M448.58 530.66h0.01M461.68 536.63h0.01M442.88 541.8h0.01M441.58 536.64h0.01M451.49 536.75h0.01M452.6 539.34h0.01M448.64 543h0.01M444.12 538.39h0.01M460.26 541.09h0.01M444.39 541.94h0.01M446.07 536.93h0.01M461.53 530.68h0.01M448.19 535.83h0.01M457.73 532.71h0.01M459.88 536.59h0.01M443.25 535.66h0.01M454.49 534.48h0.01M449.4 536.63h0.01M452.79 534.85h0.01M449.57 543h0.01M454.11 531.58h0.01M445.68 535.77h0.01M450.07 538.61h0.01M445.84 537.56h0.01M454.43 541.61h0.01M447.24 538.31h0.01M452.9 535.71h0.01M444.28 540.54h0.01M446.59 530.29h0.01M456.71 537.1h0.01M447.93 533.17h0.01M451.15 537.46h0.01M455.27 534.45h0.01M453.49 531.27h0.01M459.45 537.18h0.01M445.39 538.33h0.01M457.3 533.53h0.01M459.04 538.77h0.01M461.79 542.35h0.01M447.22 537.53h0.01M461.36 536.07h0.01M441.2 537.55h0.01M456.38 534.71h0.01M443.04 538.47h0.01M442.89 540.56h0.01M448.1 540.78h0.01M459.43 533h0.01M461.47 538.38h0.01M457.56 536.34h0.01M455.41 539.95h0.01M445.84 536.81h0.01M450 536.37h0.01M461.71 536.24h0.01M466.49 533.52h0.01M468.97 530.94h0.01M463.87 530.16h0.01M471.84 533.18h0.01M464.05 531.89h0.01M463.53 527.97h0.01M467.03 525h0.01M466.97 532.39h0.01M465.02 539.4h0.01M472.51 530.69h0.01M465.86 533.45h0.01M462.9 534.73h0.01M462.53 528.52h0.01M469.97 532h0.01M467.16 537.68h0.01M471.37 532.57h0.01M469.79 526.95h0.01M476.14 530.54h0.01M474.57 531.47h0.01M466.51 528.64h0.01M467.98 535.71h0.01M467.49 531.6h0.01M467.84 539.4h0.01M461.98 539.4h0.01M470.71 534.67h0.01M470.76 530.97h0.01M467.37 532.34h0.01M463.58 534.59h0.01M474.12 533.87h0.01M462.62 525h0.01M471.97 529.86h0.01M469.86 536.83h0.01M466.48 532.35h0.01M472.72 532.17h0.01M474.28 527.39h0.01M476.32 531.89h0.01M465.3 528.12h0.01M467.39 527.88h0.01M472.23 528.75h0.01M470.79 534.93h0.01M471.72 529.98h0.01M469.77 536.76h0.01M465.14 530.05h0.01M477.4 536.67h0.01M476.92 537.72h0.01M476.92 534.2h0.01M477.9 542.17h0.01M478.45 543.42h0.01M478.44 530.5h0.01M477.93 535.87h0.01M477.81 538.75h0.01M481.16 535.8h0.01M481.7 545.09h0.01M479.43 534.93h0.01M480.41 542.68h0.01M479.66 533.62h0.01M479.75 539.38h0.01M480.33 541.08h0.01M481.63 535.48h0.01M483.81 535.07h0.01M489.44 541.15h0.01M490.42 535.49h0.01M490.95 537.41h0.01M484.94 529.81h0.01M494.65 532.67h0.01M486.55 538.84h0.01M488.99 533.71h0.01M482.53 538.58h0.01M485.88 534.48h0.01M485.47 535.07h0.01M495.34 535.11h0.01M486.63 538.75h0.01M497.46 539.9h0.01M497.92 538.38h0.01M485.89 529.95h0.01M493.51 538.56h0.01M489 539.34h0.01M488.92 536.66h0.01M495.24 534.57h0.01M494.06 539.14h0.01M497.04 533.47h0.01M492.79 538.44h0.01M499.12 539.04h0.01M495.23 542.8h0.01M489.01 533.97h0.01M483.5 532.82h0.01M496.04 532.41h0.01M491.29 538.62h0.01M498.69 535.64h0.01M493.05 534.78h0.01M490.66 528.91h0.01M489.79 537.22h0.01M490.87 538.59h0.01M491.19 533.14h0.01M491.57 538.03h0.01M495.75 530.82h0.01M489.55 540.86h0.01M492.34 536.97h0.01M496.28 535.82h0.01M486.24 533.81h0.01M483.61 536.29h0.01M483.81 534.08h0.01M495.99 534.49h0.01M494.66 535.12h0.01M495.21 534.4h0.01M494.85 535.73h0.01M489.85 528.4h0.01M497.15 529.19h0.01M498.16 537.58h0.01M491.68 538.17h0.01M482.31 538.48h0.01M487 535.39h0.01M487.93 535.38h0.01M503.17 546.12h0.01M502.95 537.98h0.01M501.96 539.56h0.01M504.66 541.28h0.01M501.73 532.28h0.01M501.47 543.23h0.01M502.29 540.44h0.01M502.73 534.24h0.01M502.26 539.33h0.01M504.35 541.48h0.01M503.17 546.2h0.01M500.75 537.25h0.01M502.46 543.09h0.01M503.21 537.72h0.01" stroke="#c0c2c3" stroke-width="1.8" stroke-linecap="round" fill="none"/>
<path d="M345.3 505h0.01M371.6 521.9h0.01M331.6 528.3h0.01M412.4 507.5h0.01M412.4 502.3h0.01M414.4 526h0.01M423.3 506.3h0.01" stroke="#b4b4b4" stroke-width="2.6" stroke-linecap="round" fill="none"/>
<path d="M324.3 535.8 L338.8 535.8 L338.8 535.8 L338.8 535.4 L342.6 535.4 L342.6 535.4 L342.6 538 L343.1 538 L343.1 538 L343.1 535.4 L365.9 535.4 L365.9 535.4 L365.9 547.6 L369.3 547.6 L369.3 547.6 L369.3 535.8 L374.5 535.8 L374.5 535.8 L374.5 541 L377 541 L377 541 L377 535.2 L387 535.2 L387 535.2 L387 547.3 L388.4 547.3 L388.4 547.3 L388.4 549 L389.9 549 L389.9 549 L389.9 535.8 L392.5 535.8 L392.5 535.8 L392.5 539.2 L396.3 539.2 L396.3 539.2 L396.3 536.7 L411.5 536.7 L411.5 536.7 L411.5 534.6 L421 534.6 L421 534.6 L421 511.8 L422.7 511.8 L422.7 511.8 L422.7 519.6 L424.2 519.6 L424.2 519.6 L424.2 547.6 L427.5 547.6 L427.5 547.6 L427.5 534.6 L439 534.6 L439 534.6 L439 546.7 L440 546.7 L440 546.7 L440 549.5 L441 549.5 L441 549.5 L441 535.8 L461.9 535.8 L461.9 535.8 L461.9 532.2 L476.4 532.2 L476.4 532.2 L476.4 538.5 L477.5 538.5 L477.5 538.5 L477.5 537 L479.3 537 L479.3 537 L479.3 539.4 L482.2 539.4 L482.2 539.4 L482.2 535.6 L500.5 535.6 L500.5 535.6 L500.5 539 L505.3 539" fill="none" stroke="#ff2200" stroke-width="2.5" stroke-linejoin="miter"/>
<text x="328.6" y="570.6" font-size="8.6" fill="#231f20" textLength="46" lengthAdjust="spacingAndGlyphs">MEP J<tspan dy="-3.2" font-size="6.2">VF</tspan><tspan dy="3.2">P</tspan><tspan dy="-2.4" font-size="6.4">172/−</tspan></text>
<line x1="372.5" y1="571" x2="400.7" y2="571" stroke="#ff2200" stroke-width="1.6" stroke-linecap="butt"/>
<rect x="324.7" y="617" width="11.6" height="10" fill="#cbcdce"/><rect x="336.3" y="616.5" width="27.9" height="10" fill="#cbcdce"/><rect x="364.2" y="619.5" width="6.7" height="10" fill="#cbcdce"/><rect x="370.9" y="616.9" width="16.3" height="10" fill="#cbcdce"/><rect x="387.2" y="619.5" width="3.5" height="10" fill="#cbcdce"/><rect x="390.7" y="616.5" width="31.3" height="10" fill="#cbcdce"/><rect x="422" y="609.3" width="1.2" height="10" fill="#cbcdce"/><rect x="423.2" y="619.1" width="4.8" height="10" fill="#cbcdce"/><rect x="428" y="616.6" width="9" height="10" fill="#cbcdce"/><rect x="437" y="619" width="3" height="10" fill="#cbcdce"/><rect x="440" y="617.5" width="15.2" height="10" fill="#cbcdce"/><rect x="455.2" y="620.4" width="2" height="10" fill="#cbcdce"/><rect x="457.2" y="616.7" width="22.8" height="10" fill="#cbcdce"/><rect x="480" y="617.4" width="10.8" height="10" fill="#cbcdce"/><rect x="490.8" y="617.9" width="14.5" height="10" fill="#cbcdce"/>
<path d="M333.93 624.58h0.01M328.08 620.41h0.01M331.57 615.71h0.01M329.97 625.58h0.01M334.89 620.45h0.01M325.37 617.3h0.01M325.27 624.08h0.01M334.71 626.36h0.01M326.79 624.12h0.01M335.4 616h0.01M330.48 619.58h0.01M332.52 620.63h0.01M327.15 619.32h0.01M334.42 626.9h0.01M327.1 628.38h0.01M325.87 627.21h0.01M335.73 625.55h0.01M329.51 620.49h0.01M335.21 619.66h0.01M332.66 622.69h0.01M332.77 623.02h0.01M325.18 623.55h0.01M327.4 619.43h0.01M331.45 620.07h0.01M326.49 626.19h0.01M335.28 618.89h0.01M326.46 628.17h0.01M333.97 625.56h0.01M325.08 621.55h0.01M329.11 620.38h0.01M331.03 620.02h0.01M325.79 616.33h0.01M329.69 623.29h0.01M332.58 627.09h0.01M339.71 625.95h0.01M362.06 628.7h0.01M350.98 621.29h0.01M344.41 618.04h0.01M350.15 626.4h0.01M362.24 624.96h0.01M360.41 623.79h0.01M352.98 620h0.01M340.2 621.11h0.01M343.87 626.94h0.01M342.64 617.17h0.01M362.1 626.26h0.01M363.29 622.48h0.01M345.91 626.45h0.01M337.7 619.7h0.01M345.59 618.92h0.01M357.01 622.34h0.01M341.29 622.21h0.01M338.24 618.55h0.01M351.9 625.26h0.01M358.28 624.08h0.01M352.92 620.58h0.01M350.62 621.73h0.01M339.01 620.34h0.01M352.43 619.97h0.01M346.15 617.75h0.01M340.87 625.26h0.01M341.03 624.52h0.01M359.8 620.34h0.01M360.67 619.47h0.01M338.92 621.75h0.01M360.83 624.63h0.01M351.25 624.33h0.01M339.58 619.39h0.01M351.24 621.93h0.01M350.44 619.9h0.01M347.56 623.27h0.01M341.98 623.36h0.01M360.62 623.41h0.01M350.3 621.99h0.01M362.62 621.1h0.01M349.93 622.69h0.01M355.52 616.97h0.01M342.7 621.5h0.01M343.67 619.42h0.01M337.16 618.09h0.01M344.45 624.2h0.01M361.15 625.58h0.01M342.83 623.89h0.01M352.91 622.7h0.01M338.03 615.96h0.01M343.16 614.3h0.01M337.45 615.5h0.01M353.55 619.14h0.01M345.84 615.33h0.01M358.91 614.3h0.01M336.6 623.43h0.01M362.53 618.37h0.01M338.76 623.43h0.01M343.13 620.95h0.01M340.52 616.1h0.01M345.91 623.02h0.01M342.43 623.35h0.01M345.54 628.7h0.01M358.39 619.64h0.01M349.68 615.24h0.01M361.64 621.61h0.01M357.27 619.93h0.01M353.74 619.69h0.01M359.9 621.86h0.01M356.32 619.96h0.01M346.04 626.4h0.01M355.07 628.7h0.01M357.1 625.97h0.01M362.45 626.57h0.01M361.54 621.28h0.01M358.68 614.7h0.01M352.77 615.32h0.01M358.19 624.16h0.01M360.6 618.72h0.01M351.13 628.7h0.01M362.69 628.57h0.01M358.27 627.8h0.01M365.89 625.88h0.01M365.53 622.28h0.01M367.27 624.85h0.01M370.28 628.68h0.01M368.79 623.62h0.01M369.45 621.02h0.01M369.52 620.99h0.01M369.73 617.3h0.01M366.92 628.97h0.01M369.8 627.22h0.01M366.48 618.83h0.01M369.51 620.66h0.01M364.23 623.85h0.01M364.94 624.54h0.01M369.64 620.22h0.01M367.27 626.9h0.01M366.45 625.26h0.01M369.86 627.78h0.01M368.35 624.1h0.01M366.02 625.99h0.01M382.33 616.95h0.01M384.06 623.79h0.01M372.87 621.47h0.01M384.31 620.94h0.01M373.9 620.68h0.01M376.81 629.1h0.01M374.55 625.7h0.01M385.47 618.75h0.01M377.33 614.7h0.01M379.16 621.92h0.01M387.01 624.42h0.01M373.54 628.2h0.01M379.49 624.14h0.01M386.3 621.9h0.01M378.31 622.9h0.01M376.64 619.35h0.01M372.54 615.12h0.01M379.28 619.57h0.01M377.04 628.77h0.01M381.76 618.59h0.01M372.14 619.12h0.01M386.51 619.16h0.01M376.8 619.2h0.01M377.03 617.58h0.01M379.41 618.4h0.01M379.02 614.87h0.01M376.83 623.12h0.01M384.51 621.72h0.01M382.04 618.23h0.01M383.14 620.52h0.01M385.43 621.11h0.01M371.47 615.96h0.01M376.2 627.7h0.01M385.43 628.65h0.01M373.26 617.88h0.01M371.66 619.43h0.01M377.29 621.81h0.01M375.48 616.74h0.01M383.33 620.75h0.01M377.76 626.26h0.01M386.84 618.03h0.01M381.93 616.66h0.01M377.1 627.41h0.01M382.16 620.6h0.01M375.42 624.38h0.01M384.36 625.91h0.01M383.84 620.77h0.01M379.31 623.52h0.01M390.27 627.59h0.01M387.8 629.52h0.01M388.29 627.36h0.01M388.54 625.5h0.01M390.58 626.75h0.01M388.28 623.95h0.01M390.5 625.53h0.01M388.73 627.5h0.01M387.58 624.27h0.01M388.55 628.1h0.01M420.86 621.24h0.01M419.14 623.92h0.01M404.79 624.17h0.01M415.07 617.12h0.01M400.55 625h0.01M405.42 626.45h0.01M408.19 618.62h0.01M399.32 616.22h0.01M402.05 625.34h0.01M399.73 619.31h0.01M410.43 621.12h0.01M391.99 627.67h0.01M416.57 618.43h0.01M420.12 620.14h0.01M399.01 621.56h0.01M407.87 622.87h0.01M414.29 619.88h0.01M415.98 618.16h0.01M394.18 619.69h0.01M420.98 626.35h0.01M410.54 619.29h0.01M403.05 615.69h0.01M420.13 621.34h0.01M402.99 618.21h0.01M415.92 620.15h0.01M417.98 623.37h0.01M407.35 616.19h0.01M418.92 620.79h0.01M394.88 620.8h0.01M403.63 622.63h0.01M406.42 624.69h0.01M408.79 617.21h0.01M403.34 618.92h0.01M417.14 620.21h0.01M415.38 622.59h0.01M411.72 619.75h0.01M414.3 614.3h0.01M418.83 621.47h0.01M413.96 623.75h0.01M418.2 616.8h0.01M394.81 619.9h0.01M409.87 616.12h0.01M399.31 625.96h0.01M416.5 623.51h0.01M399.25 622.09h0.01M393.64 623.99h0.01M411.86 627.9h0.01M401.96 620.48h0.01M412.59 627.68h0.01M400.88 624.51h0.01M390.81 620.15h0.01M399.31 620.07h0.01M392.55 617.18h0.01M415.97 623.03h0.01M391.94 622.31h0.01M397.73 619.96h0.01M410.4 619.77h0.01M408.49 624.22h0.01M397.52 622.16h0.01M416.97 619.13h0.01M416.01 620.63h0.01M415.05 621.29h0.01M391.59 617.72h0.01M392.67 621.39h0.01M410.42 620.74h0.01M403.22 616.79h0.01M406.73 619.31h0.01M417.86 620.14h0.01M421.87 624.57h0.01M401.01 614.3h0.01M421.57 625.2h0.01M394.89 623.28h0.01M404.91 619.18h0.01M404.93 616.35h0.01M401.39 622.85h0.01M399.54 624.9h0.01M396.78 621.12h0.01M404.43 617.18h0.01M396.89 620.82h0.01M399.01 619.22h0.01M408.24 618.58h0.01M414.1 614.3h0.01M420.38 626.55h0.01M413.22 618.72h0.01M392.66 621.66h0.01M417.73 622.06h0.01M413.3 619.57h0.01M401.82 619.44h0.01M395.82 614.3h0.01M400.27 614.3h0.01M392.08 623.03h0.01M418.84 624.51h0.01M415.88 619.89h0.01M422.13 614.77h0.01M422.18 615h0.01M423.19 610.3h0.01M427.58 625.24h0.01M427.15 620.17h0.01M423.82 627.69h0.01M425.64 627.03h0.01M424.2 624.09h0.01M427.56 624.85h0.01M426.61 631.3h0.01M425.3 620.7h0.01M426.72 619.19h0.01M427.24 628.48h0.01M423.84 626.59h0.01M426.01 624.3h0.01M425.02 630.87h0.01M426.97 624.49h0.01M432.17 628.8h0.01M432.81 623.63h0.01M428.64 619.36h0.01M435.97 626.11h0.01M432.36 620.04h0.01M430.19 619.72h0.01M436.15 620.35h0.01M433.32 622.73h0.01M429.14 622.83h0.01M433.27 625.38h0.01M433.73 620.57h0.01M428.61 617.87h0.01M434.52 625.43h0.01M431.6 622.95h0.01M434.06 621h0.01M433.85 619h0.01M434.23 619.64h0.01M436.18 621.95h0.01M433.39 624.05h0.01M436.88 622.62h0.01M430.06 616.66h0.01M435.41 625.57h0.01M433.71 621.55h0.01M428.84 620.6h0.01M436.79 621.93h0.01M428.44 620.65h0.01M430.16 623.9h0.01M439.02 622.93h0.01M439.79 618.8h0.01M437.79 617.82h0.01M437.46 630.02h0.01M437.31 624.69h0.01M439.92 623.42h0.01M439.42 621.76h0.01M437.49 622.3h0.01M439.36 623.87h0.01M453.52 622.71h0.01M452.94 622.38h0.01M448.45 624.34h0.01M449.42 618.67h0.01M449.04 622.94h0.01M440.82 621.12h0.01M448.29 621.58h0.01M440.12 626h0.01M451.32 629.2h0.01M452.34 623.52h0.01M446.96 626.25h0.01M443.15 626.12h0.01M446.52 629.7h0.01M448.3 628.8h0.01M445.36 627.34h0.01M452.92 625.75h0.01M452.89 625.27h0.01M444.6 624.55h0.01M451.59 625.44h0.01M454.87 626.44h0.01M451.69 623.92h0.01M441.73 622.56h0.01M450.53 618.95h0.01M446.93 619.96h0.01M446.19 618.51h0.01M453.93 619.16h0.01M451.14 624.79h0.01M452.73 615.3h0.01M450.89 627.84h0.01M452.92 623.54h0.01M446.55 624.13h0.01M454.33 620.93h0.01M446.71 621.76h0.01M444.57 619.85h0.01M445.3 621.78h0.01M446.73 623.93h0.01M454.91 617.76h0.01M451.59 615.62h0.01M452.72 628.51h0.01M444.17 622.28h0.01M443.8 621.87h0.01M443.51 622.89h0.01M453.47 625.33h0.01M451.71 620.97h0.01M451.78 627.43h0.01M456.26 621.31h0.01M455.41 626.83h0.01M456.45 622.62h0.01M455.93 618.2h0.01M455.52 623.23h0.01M456.26 622.77h0.01M478.59 618.08h0.01M466.49 626.42h0.01M479.26 618.86h0.01M459.24 622.39h0.01M477.87 624.58h0.01M457.51 621.33h0.01M479.77 627.4h0.01M461.22 616.63h0.01M472.95 623.78h0.01M474.21 621.75h0.01M463.06 618.98h0.01M457.83 620.81h0.01M463.12 619.4h0.01M479.19 618.71h0.01M472.16 617.93h0.01M470.83 620.66h0.01M458.66 618.82h0.01M458.73 625.1h0.01M460.44 622.01h0.01M459.77 614.5h0.01M472.88 622.08h0.01M463.43 621.97h0.01M459.48 619.46h0.01M464.11 617.07h0.01M467.34 624.68h0.01M473.81 628.61h0.01M465.01 626.39h0.01M476.18 628.34h0.01M462.36 623h0.01M476.69 623.45h0.01M463.53 616.63h0.01M457.42 624.58h0.01M460.8 628.9h0.01M472.23 617.17h0.01M461.32 618.95h0.01M460.48 628.9h0.01M465.93 627.58h0.01M472.07 619.38h0.01M458.68 620.62h0.01M457.54 622.84h0.01M479.16 620.18h0.01M465.49 621.36h0.01M475.17 619.76h0.01M462.94 618.78h0.01M459.74 624.96h0.01M462.86 622.54h0.01M465.88 618.87h0.01M474.64 622.08h0.01M462.19 624.03h0.01M465.96 618.28h0.01M467.96 625.56h0.01M477.03 626.75h0.01M476.27 623.36h0.01M462.55 625.5h0.01M459.84 622.41h0.01M467.69 621.32h0.01M459.89 620.15h0.01M468.13 622.9h0.01M467.24 624.01h0.01M459.9 624.8h0.01M467.9 623.11h0.01M478.55 620.39h0.01M462.27 621.23h0.01M474.17 614.99h0.01M479.14 618.9h0.01M476.76 628.35h0.01M469.17 627.21h0.01M462.67 625.14h0.01M482.29 628.72h0.01M480.9 621.62h0.01M484.98 629.6h0.01M487.9 625.93h0.01M483.43 624.18h0.01M482.22 620.63h0.01M481.29 619.49h0.01M490.63 620.15h0.01M480.12 622.66h0.01M487.05 621.6h0.01M485.08 622.33h0.01M488 619.84h0.01M485.39 621.79h0.01M486.53 621.23h0.01M488.68 620.76h0.01M490.21 621.97h0.01M483.97 615.31h0.01M489.75 623.47h0.01M486.46 624.75h0.01M489.74 624.59h0.01M480.39 623.64h0.01M484.74 623.89h0.01M488.09 624.21h0.01M486.3 625.79h0.01M487.33 621.04h0.01M480.14 624.89h0.01M485.15 621.56h0.01M485.53 626.37h0.01M490.71 621.06h0.01M486.71 623.83h0.01M482.18 629.07h0.01M490.8 619.92h0.01M504.74 623.59h0.01M495.47 620.15h0.01M500.5 624.72h0.01M491.13 621.4h0.01M502.81 624.42h0.01M490.8 620.73h0.01M497.39 621.16h0.01M498.95 622.43h0.01M494.29 621h0.01M492.55 624.88h0.01M492.79 622.39h0.01M498.37 616.35h0.01M491.63 619.22h0.01M494.2 625.27h0.01M497.36 627.05h0.01M496.73 626.95h0.01M503.27 619.48h0.01M504.68 621.88h0.01M496.71 630.1h0.01M491.55 624.35h0.01M491.05 622.04h0.01M495 620.62h0.01M503.42 630.1h0.01M496.89 616.02h0.01M502.5 621.62h0.01M500.27 621.11h0.01M494.33 622.76h0.01M500.34 617.36h0.01M503.83 619.56h0.01M504.75 623.4h0.01M503.81 624.24h0.01M499.07 625.2h0.01M494.51 627.92h0.01M494.23 619.97h0.01M500.62 626.17h0.01M491.86 622.62h0.01M497.64 617.87h0.01M500.55 623.05h0.01M497.69 622.42h0.01M500.63 621.58h0.01M493.41 617.87h0.01M504.7 623.48h0.01M497.04 620.34h0.01" stroke="#c0c2c3" stroke-width="1.8" stroke-linecap="round" fill="none"/>
<path d="M345.5 590.8h0.01M331.5 613.9h0.01M371.8 608.1h0.01M369.9 629.8h0.01M395.5 615.8h0.01M412.2 588.9h0.01M414.7 611h0.01M425.8 631.6h0.01M456.2 629.3h0.01" stroke="#b4b4b4" stroke-width="2.6" stroke-linecap="round" fill="none"/>
<path d="M324.7 622 L336.3 622 L336.3 622 L336.3 621.5 L364.2 621.5 L364.2 621.5 L364.2 624.5 L370.9 624.5 L370.9 624.5 L370.9 621.9 L387.2 621.9 L387.2 621.9 L387.2 624.5 L390.7 624.5 L390.7 624.5 L390.7 621.5 L422 621.5 L422 621.5 L422 614.3 L423.2 614.3 L423.2 614.3 L423.2 624.1 L428 624.1 L428 624.1 L428 621.6 L437 621.6 L437 621.6 L437 624 L440 624 L440 624 L440 622.5 L455.2 622.5 L455.2 622.5 L455.2 625.4 L457.2 625.4 L457.2 625.4 L457.2 621.7 L480 621.7 L480 621.7 L480 622.4 L490.8 622.4 L490.8 622.4 L490.8 622.9 L505.3 622.9" fill="none" stroke="#000" stroke-width="3.1" stroke-linejoin="miter"/>
<text x="327.4" y="655.6" font-size="8.6" fill="#231f20" textLength="44.5" lengthAdjust="spacingAndGlyphs">GMP J<tspan dy="-3.2" font-size="6.2">VF</tspan><tspan dy="3.2">P</tspan><tspan dy="-2.4" font-size="6.4">172/−</tspan></text>
<line x1="372.5" y1="655.4" x2="400.7" y2="655.4" stroke="#000" stroke-width="1.5" stroke-linecap="butt"/>
<text transform="translate(292.2,542.5) rotate(-90)" font-size="9.4" fill="#231f20" textLength="45.5" lengthAdjust="spacingAndGlyphs" text-anchor="middle">Copy number</text>
<text transform="translate(292.2,628) rotate(-90)" font-size="9.4" fill="#231f20" textLength="46" lengthAdjust="spacingAndGlyphs" text-anchor="middle">Copy number</text>
</svg>
</body></html>
